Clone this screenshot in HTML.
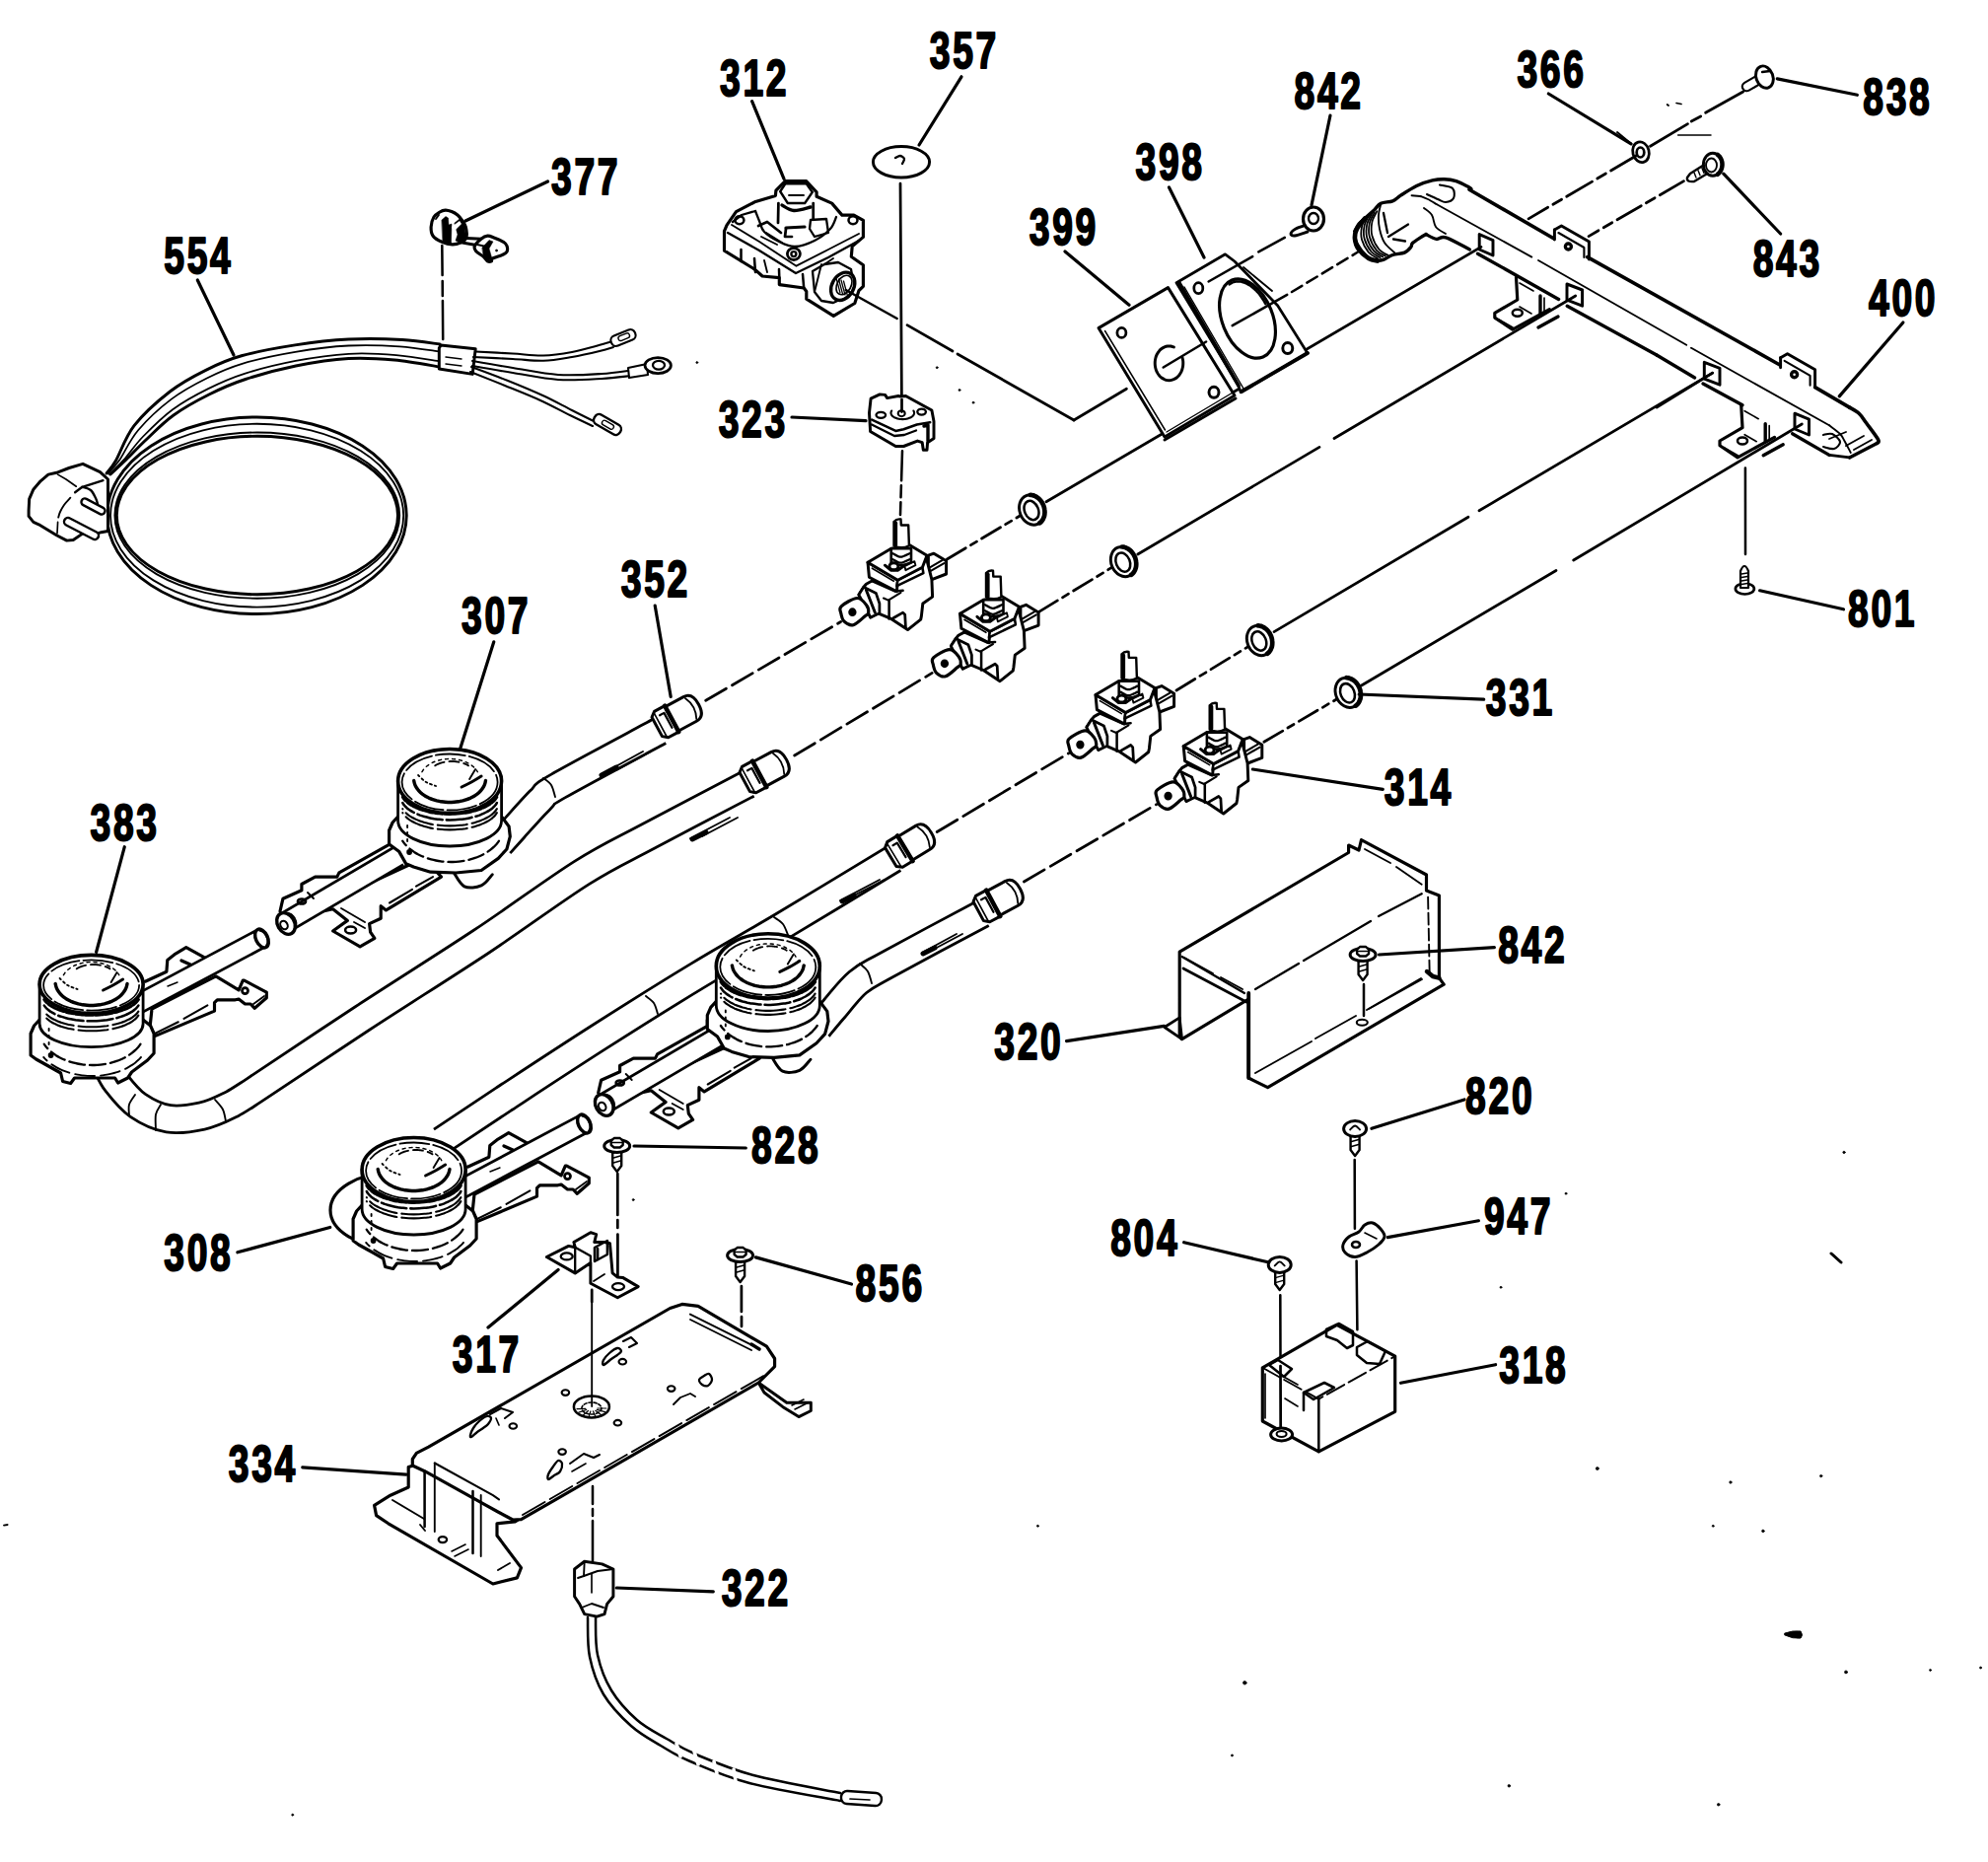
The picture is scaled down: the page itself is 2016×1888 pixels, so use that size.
<!DOCTYPE html><html><head><meta charset="utf-8"><style>html,body{margin:0;padding:0;background:#fff;width:2016px;height:1888px;overflow:hidden}svg{display:block}</style></head><body>
<svg width="2016" height="1888" viewBox="0 0 2016 1888">
<rect width="2016" height="1888" fill="#fff"/>
<g stroke="#000" fill="none" stroke-linecap="round" stroke-linejoin="round">
<ellipse cx="260.4" cy="522.8" rx="151.8" ry="99.8" stroke-width="2.96"/>
<ellipse cx="260.6" cy="522.7" rx="148.6" ry="92.9" stroke-width="1.88"/>
<ellipse cx="260.8" cy="522.6" rx="144.4" ry="84.1" stroke-width="1.88"/>
<ellipse cx="260.9" cy="522.5" rx="142.6" ry="80.2" stroke-width="2.96"/>
<path d="M108,480 C109.5,477.9 112.5,475.7 117.2,467.6 C121.9,459.5 127,443.2 136.2,431.4 C145.4,419.6 160.3,406.4 172.4,397 C184.5,387.6 196.6,381.3 208.7,375.3 C220.8,369.3 229.8,365 244.9,360.8 C260,356.6 281.1,352.7 299.2,349.9 C317.3,347.1 335.4,345 353.5,344.1 C371.6,343.2 392.5,343.7 407.9,344.5 C423.3,345.3 439.6,348.2 446,349" stroke-width="2.96"/>
<path d="M109.3,480.3 C111.2,478.1 115.6,474.4 120.8,467.1 C125.9,459.7 131.3,446.6 140.1,436.2 C148.9,425.9 162,413.7 173.6,404.9 C185.2,396.1 197.7,389.5 209.8,383.5 C221.9,377.4 231.3,373.1 246.3,368.6 C261.2,364.2 281.6,359.9 299.5,356.9 C317.3,353.8 335.9,351.4 353.5,350.5 C371.1,349.6 389.9,350.3 405.3,351.3 C420.7,352.3 439.2,355.7 446,356.6" stroke-width="1.77"/>
<path d="M111,480.8 C113.4,478.4 119.7,472.8 125.4,466.4 C131.1,460 136.9,451 145.2,442.5 C153.5,434 164.1,423.3 175.1,415.2 C186.1,407.2 199.1,400.1 211.2,394.1 C223.4,388 233.2,383.5 248,378.8 C262.8,374.1 282.2,369.3 299.8,365.9 C317.4,362.6 336.5,359.8 353.5,358.8 C370.5,357.9 386.5,358.8 401.9,360.1 C417.3,361.4 438.6,365.4 446,366.5" stroke-width="1.77"/>
<path d="M112,481 C114.7,478.5 122,471.8 128,466 C134,460.2 140,453.5 148,446 C156,438.5 165.3,428.7 176,421 C186.7,413.3 199.8,406.1 212,400 C224.2,393.9 234.3,389.3 249,384.5 C263.7,379.7 282.6,374.5 300,371 C317.4,367.5 336.8,364.5 353.5,363.5 C370.2,362.5 384.6,363.6 400,365 C415.4,366.4 438.3,370.8 446,372" stroke-width="2.96"/>
<path d="M84,470.3 L70,474.5 L57.4,479.3 L49,481.1 L41.1,487.8 L33.9,496.2 L29.7,505.9 L29.1,517.3 L29.1,523.4 L33.9,529.4 L39.3,531.8 L57.4,542.7 L67.7,548.1 L74.3,547.5 L84,540.9 L90,542.7 L95.5,542.1 L102.7,539.7 L109.5,538.5 L109.5,486 L101.5,478.7 Z" stroke-width="2.96" fill="#fff"/>
<path d="M58.6,481.1 L67,486 L77.3,493.2" stroke-width="1.66"/>
<path d="M76.1,499.2 L83.4,493.8 L104.5,487.2" stroke-width="2.31"/>
<path d="M83.4,493.8 C84.8,494.3 89.7,495.1 92,497 C94.3,498.9 95.8,502.7 97,505 C98.2,507.3 98.7,510 99,511" stroke-width="2.31"/>
<path d="M71.3,504.7 C70.2,505.9 66.7,509.6 65,512 C63.3,514.4 62,516.9 61,519 C60,521.1 59.5,523.7 59.2,524.6" stroke-width="1.88"/>
<line x1="58.6" y1="529.4" x2="58" y2="540.9" stroke-width="1.66"/>
<rect x="81.4" y="510" width="26.2" height="7" rx="3.5" transform="rotate(27.9 94.5 513.5)" stroke-width="2.4" fill="#fff"/>
<rect x="63.3" y="532" width="38.4" height="8" rx="4" transform="rotate(27.4 82.5 536)" stroke-width="2.4" fill="#fff"/>
<path d="M447,350 L482.2,353.7 L479.2,379.4 L445.3,374 L445.3,353 Z" stroke-width="2.96" fill="#fff"/>
<line x1="452" y1="362" x2="468" y2="364" stroke-width="1.45"/>
<line x1="452" y1="369" x2="468" y2="371" stroke-width="1.45"/>
<path d="M482,356.5 C488.3,356.8 508.5,357.8 520,358.5 C531.5,359.2 541,360.8 551,360.5 C561,360.2 571,358.6 580,357 C589,355.4 598,352.5 605,350.7 C612,348.9 619.2,346.8 622,346" stroke-width="2.09"/>
<path d="M480,362 C486.7,362.3 508.2,363.4 520,364 C531.8,364.6 541,366.1 551,365.8 C561,365.5 570.5,363.6 580,362 C589.5,360.4 601,357.7 608,356 C615,354.3 619.7,352.7 622,352" stroke-width="2.09"/>
<rect x="619" y="337" width="26" height="11" rx="5" transform="rotate(-22 632 342.5)" stroke-width="2.2" fill="#fff"/>
<rect x="627" y="339.5" width="12" height="5" rx="2.5" transform="rotate(-22 632 342.5)" stroke-width="1.4"/>
<path d="M479,366 C485.8,367.2 505.5,370.7 520,373 C534.5,375.3 551,379 566,380 C581,381 597.7,379.8 610,379 C622.3,378.2 635,376.1 640,375.5" stroke-width="2.09"/>
<path d="M479,371 C485.8,372.2 505.5,375.7 520,378 C534.5,380.3 551,384 566,385 C581,386 597.7,384.7 610,384 C622.3,383.3 635,381.5 640,381" stroke-width="2.09"/>
<path d="M637,373 L656,369 L657,380 L638,383 Z" stroke-width="2.09" fill="#fff"/>
<ellipse cx="667.2" cy="370.6" rx="13.2" ry="8" stroke-width="2.74" fill="#fff"/>
<ellipse cx="668" cy="370.3" rx="6" ry="4.4" stroke-width="2.31"/>
<path d="M478,372 C484.2,374.3 502.8,381.1 515,386 C527.2,390.9 540.2,396.3 551,401.3 C561.8,406.3 571.2,411.6 580,416 C588.8,420.4 600,426 604,428" stroke-width="2.09"/>
<path d="M477,377 C482.8,379.3 500.2,386.2 512,391 C523.8,395.8 537,401 548,406 C559,411 569.2,416.7 578,421 C586.8,425.3 597.2,430.2 601,432" stroke-width="2.09"/>
<rect x="601" y="425" width="30" height="11" rx="5" transform="rotate(30 616 430.5)" stroke-width="2.4" fill="#fff"/>
<rect x="610" y="428" width="13" height="5" rx="2.5" transform="rotate(30 616 430.5)" stroke-width="1.4"/>
<path d="M448.3,249 L448.6,279 M448.7,285 L448.8,300 M448.9,305 L449.2,344" stroke-width="2.53"/>
<path d="M437.1,230.2 C437.2,227 438.5,222.5 440,220 C441.5,217.5 444.1,216.2 446,215 C447.9,213.8 449.7,213.2 451.7,213.1 C453.7,213 455.9,213.7 458,214.5 C460.1,215.3 462.2,216.5 464,218 C465.8,219.5 467.4,221.6 468.8,223.6 C470.2,225.6 471.6,227.3 472.3,230.2 C473,233.1 473.7,238.6 472.8,241.2 C471.9,243.8 469.4,244.9 467,246 C464.6,247.1 461.8,247.9 458.7,247.8 C455.6,247.7 451.4,246.7 448.1,245.3 C444.8,243.9 440.9,241.7 439.1,239.2 C437.3,236.7 437,233.4 437.1,230.2 Z" stroke-width="3.17" fill="#fff"/>
<path d="M448,223 L452,219.5 L454.5,221 L455,228 L458,227 L457.5,246 L453,247 L449,244 Z" fill="#000" stroke-width="0.5"/>
<path d="M461,226 L466,222 L471,228 L472.5,241 L467,246 L462,244 L464,238 Z" fill="#000" stroke-width="0.5"/>
<path d="M458,230 L466,224 L468,227 L460,235 Z" fill="#fff" stroke-width="0"/>
<line x1="442" y1="222" x2="445" y2="218" stroke-width="1.88"/>
<line x1="472.8" y1="241.5" x2="487.9" y2="242.3" stroke-width="2.96"/>
<line x1="467.3" y1="245.8" x2="481.3" y2="248.3" stroke-width="2.96"/>
<path d="M487.9,242.3 C490.1,240.5 492.1,239.4 494.4,239.2 C496.7,239 498.8,240.2 501.5,241.2 C504.2,242.2 508.4,244 510.5,245.3 C512.6,246.7 513.4,247.6 514,249.3 C514.6,251 514.8,253.8 514,255.3 C513.2,256.8 512,257.2 509.5,258.4 C507,259.6 500.8,261.3 498.9,262.4 C497,263.5 499.1,264.5 498.4,264.9 C497.6,265.3 495.7,265.6 494.4,264.9 C493.1,264.1 492.3,262.1 490.4,260.4 C488.5,258.7 484.3,256.6 482.8,254.8 C481.3,253 480.5,251.9 481.3,249.8 C482.1,247.7 485.7,244.1 487.9,242.3 Z" stroke-width="3.17" fill="#fff"/>
<path d="M489,251 L496,243.5 L500,245 L496,252 L499,262.5 L494.4,264.9 L490.4,260.4 Z" fill="#000" stroke-width="0.5"/>
<line x1="484" y1="248" x2="493" y2="250" stroke-width="1.88"/>
<ellipse cx="503.5" cy="254" rx="1" ry="1" stroke-width="0.69" fill="#000"/>
<path d="M796.3,183.7 L817.8,183.7 L828.1,194.9 L828.1,199.2 L843.6,206.1 L853.9,218.1 L865.9,218.1 L875.4,223.3 L875.4,240.4 L864.2,249.9 L863.3,260.2 L875.4,268.8 L875.4,290.3 L871,294.6 L866.8,307.5 L845.3,320.4 L817.8,303.2 L817.8,295.5 L815.2,292 L790.3,288.6 L790.3,281.7 L773.1,280 L765.4,273.1 L734.5,254.2 L734.5,234.4 L737,228.4 L746.5,214.7 L766.2,204.4 L786.4,198.4 L786.9,193.2 Z" stroke-width="3.17" fill="#fff"/>
<path d="M796.3,186.3 L817.8,186.3 L823.8,194.9 L816.1,206.1 L798.9,206.1 L791.2,194.1 Z" stroke-width="2.53"/>
<path d="M793,208 C795,208.9 800.2,213.2 805,213.5 C809.8,213.8 819.2,210.6 822,210" stroke-width="3.39"/>
<line x1="789.4" y1="206" x2="789" y2="226" stroke-width="2.74"/>
<line x1="824.7" y1="206" x2="824.7" y2="222" stroke-width="2.74"/>
<line x1="800" y1="198" x2="815" y2="198" stroke-width="1.88"/>
<path d="M742,228 L770,245 L807.5,269.7 L840,253 L871,237" stroke-width="1.88"/>
<path d="M738,236 L770,254 L807,277 L840,261 L871,244" stroke-width="2.31"/>
<path d="M743,225 L752,218 L766,214" stroke-width="2.31"/>
<path d="M766,214 C766.7,215.7 768.5,220.5 770,224 C771.5,227.5 771.7,231.5 775,235 C778.3,238.5 784.8,242.5 790,245 C795.2,247.5 800,250.2 806,250 C812,249.8 820,247 826,244 C832,241 838.3,236 842,232 C845.7,228 847,222 848,220" stroke-width="2.31"/>
<ellipse cx="749.9" cy="223.3" rx="4.5" ry="4" stroke-width="2.53"/>
<ellipse cx="865" cy="223.3" rx="4.5" ry="4" stroke-width="2.53"/>
<ellipse cx="804.9" cy="257.6" rx="6.5" ry="6" stroke-width="2.74"/>
<ellipse cx="804.9" cy="257.6" rx="2.5" ry="2.5" stroke-width="2.31"/>
<path d="M822,223 L838,222 L840,236 L826,240 L821,232 Z" stroke-width="2.31"/>
<path d="M769,229 L778,225 L792,236" stroke-width="2.74"/>
<path d="M797,231 L816,230" stroke-width="3.17"/>
<path d="M797,232 L796,240 L803,240" stroke-width="2.74"/>
<path d="M772,240 L788,248" stroke-width="1.88"/>
<path d="M777,236 L793,246" stroke-width="1.88"/>
<line x1="751.5" y1="253" x2="751.5" y2="265" stroke-width="2.53"/>
<line x1="765" y1="262" x2="766" y2="276" stroke-width="2.53"/>
<line x1="790" y1="273" x2="790.3" y2="281.7" stroke-width="2.53"/>
<line x1="814" y1="278" x2="815.2" y2="292" stroke-width="2.53"/>
<line x1="775" y1="264" x2="778" y2="276" stroke-width="1.88"/>
<path d="M824,275 L836,268 L850,266 L863,273 L866,290 L860,300 L845,307 L833,305 L826,296 Z" stroke-width="2.31"/>
<line x1="833" y1="268" x2="826" y2="296" stroke-width="1.88"/>
<line x1="845" y1="262" x2="836" y2="268" stroke-width="1.88"/>
<ellipse cx="854.7" cy="290.3" rx="11" ry="15" transform="rotate(30 854.7 290.3)" stroke-width="3.39" fill="#fff"/>
<ellipse cx="856" cy="289" rx="7" ry="10.5" transform="rotate(30 856 289)" stroke-width="1.66"/>
<line x1="848" y1="282" x2="852" y2="297" stroke-width="1.23"/>
<line x1="850.5" y1="283" x2="854.5" y2="298" stroke-width="1.23"/>
<line x1="853" y1="284" x2="857" y2="299" stroke-width="1.23"/>
<line x1="855.5" y1="285" x2="859.5" y2="300" stroke-width="1.23"/>
<line x1="857.7" y1="294" x2="909.7" y2="323" stroke-width="2.53"/>
<line x1="920" y1="329.6" x2="966" y2="356" stroke-width="2.74"/>
<line x1="971" y1="359" x2="1089" y2="426" stroke-width="2.74"/>
<line x1="1089" y1="426" x2="1142.4" y2="394.3" stroke-width="2.74"/>
<ellipse cx="914" cy="164.3" rx="28.6" ry="15.7" stroke-width="2.96" fill="#fff"/>
<path d="M908,160 C908.8,159.7 911.5,157.8 913,158 C914.5,158.2 916.7,159.7 917,161 C917.3,162.3 915.3,165.2 915,166" stroke-width="2.31"/>
<line x1="913" y1="186" x2="914.5" y2="417.6" stroke-width="2.74"/>
<path d="M883.1,404.2 L892.2,399.9 L897.6,400.4 L899.7,403.6 L911,401.5 L913.2,402 L918.5,401.5 L944.9,416 L947,427.3 L947,444.4 L940.6,448.7 L940,456.3 L936.3,456.3 L935.2,448.7 L930.4,447.1 L916.4,452.5 L908.3,452.5 L882.6,437.5 L881.5,418.7 Z" stroke-width="2.96" fill="#fff"/>
<path d="M884.2,425.6 L908.3,436.9 L916.4,435.3 L929.8,430.5 L943.2,428.3" stroke-width="2.53"/>
<path d="M884,430.5 L907,442 L917,441 L929,436.5" stroke-width="2.31"/>
<ellipse cx="893.3" cy="420.8" rx="4.8" ry="3" stroke-width="2.31"/>
<ellipse cx="934.6" cy="417.6" rx="4.3" ry="3" stroke-width="2.31"/>
<path d="M926.4,416.5 C926.5,416.7 926.8,417.2 926.9,417.5 C927,417.8 927.1,418.2 927.1,418.5 C927.1,418.9 927.1,419.2 927,419.5 C926.9,419.9 926.8,420.2 926.6,420.5 C926.4,420.9 926.2,421.2 925.9,421.5 C925.6,421.8 925.3,422.1 925,422.4 C924.6,422.6 924.2,422.9 923.8,423.2 C923.3,423.4 922.8,423.6 922.3,423.8 C921.8,424 921.3,424.2 920.7,424.4 C920.2,424.5 919.6,424.7 919,424.8 C918.4,424.9 917.8,425 917.2,425 C916.6,425.1 915.9,425.1 915.3,425.1 C914.7,425.1 914,425.1 913.4,425 C912.8,425 912.2,424.9 911.6,424.8 C911,424.7 910.4,424.5 909.9,424.4 C909.3,424.2 908.8,424 908.3,423.8 C907.8,423.6 907.3,423.4 906.8,423.2 C906.4,422.9 906,422.6 905.6,422.4 C905.3,422.1 905,421.8 904.7,421.5 C904.4,421.2 904.2,420.9 904,420.5 C903.8,420.2 903.7,419.9 903.6,419.5 C903.5,419.2 903.5,418.9 903.5,418.5 C903.5,418.2 903.6,417.8 903.7,417.5 C903.8,417.2 904.1,416.7 904.2,416.5" stroke-width="2.09"/>
<ellipse cx="914.2" cy="419.2" rx="3.5" ry="3" stroke-width="2.09"/>
<line x1="914.5" y1="405" x2="914.5" y2="417.6" stroke-width="2.74"/>
<path d="M937,432 L941,431 L941,447" stroke-width="3.39"/>
<path d="M915,457.3 L914.1,487.3 M913.9,492.3 L913.5,504.3 M913.4,509.3 L913,522" stroke-width="2.53"/>
<line x1="1061" y1="508.8" x2="1502" y2="250.4" stroke-width="2.74"/>
<line x1="1153.8" y1="562" x2="1338" y2="453.4" stroke-width="2.74"/>
<line x1="1353" y1="444.5" x2="1597.7" y2="300" stroke-width="2.74"/>
<line x1="1292" y1="640.6" x2="1489" y2="524.3" stroke-width="2.74"/>
<line x1="1500" y1="517.8" x2="1736.7" y2="378.1" stroke-width="2.74"/>
<line x1="1380.7" y1="695" x2="1578" y2="578.5" stroke-width="2.74"/>
<line x1="1595.7" y1="568" x2="1827.3" y2="430" stroke-width="2.74"/>
<path d="M1114,332.6 L1184.5,291.6 L1252,401 L1181,443 Z" stroke-width="2.96" fill="#fff"/>
<line x1="1120.5" y1="335.5" x2="1181.5" y2="436" stroke-width="1.45"/>
<line x1="1183" y1="438" x2="1251" y2="397.5" stroke-width="1.45"/>
<line x1="1181" y1="446" x2="1253" y2="404" stroke-width="2.96"/>
<ellipse cx="1137.4" cy="337.4" rx="4.5" ry="5" stroke-width="2.74"/>
<ellipse cx="1231" cy="397.8" rx="5" ry="5.5" stroke-width="2.96"/>
<path d="M1198.9,362.3 C1199.1,363 1199.6,364.9 1199.7,366.2 C1199.8,367.4 1199.8,368.8 1199.7,370.1 C1199.6,371.4 1199.4,372.7 1199,373.9 C1198.7,375.1 1198.2,376.3 1197.7,377.4 C1197.1,378.5 1196.4,379.6 1195.7,380.5 C1194.9,381.4 1194.1,382.3 1193.2,383 C1192.3,383.7 1191.3,384.3 1190.3,384.7 C1189.3,385.1 1188.2,385.4 1187.2,385.6 C1186.1,385.7 1185,385.7 1183.9,385.6 C1182.9,385.5 1181.8,385.2 1180.8,384.7 C1179.8,384.3 1178.8,383.7 1177.9,383 C1177,382.4 1176.1,381.5 1175.4,380.6 C1174.6,379.7 1173.9,378.6 1173.4,377.5 C1172.8,376.4 1172.3,375.2 1172,374 C1171.6,372.8 1171.4,371.5 1171.3,370.2 C1171.2,368.9 1171.2,367.6 1171.3,366.3 C1171.4,365 1171.7,363.7 1172,362.5 C1172.4,361.2 1172.9,360 1173.4,359 C1174,357.9 1174.7,356.8 1175.5,355.9 C1176.2,355 1177.1,354.2 1178,353.5 C1178.9,352.8 1179.9,352.2 1180.9,351.8 C1181.9,351.4 1183,351.1 1184,351 C1185.1,350.9 1186.2,350.9 1187.3,351 C1188.3,351.2 1189.9,351.8 1190.4,351.9" stroke-width="2.96"/>
<line x1="1179.7" y1="372.5" x2="1223.1" y2="346.5" stroke-width="2.53"/>
<path d="M1193,286.7 L1242.5,257.8 L1252,265 L1295.6,309.7 L1322.1,351.9 L1325.8,358 L1258.2,397.8 L1255.7,390.6 Z" stroke-width="2.74" fill="#fff"/>
<line x1="1196" y1="287" x2="1256" y2="391" stroke-width="3.61"/>
<line x1="1201" y1="291" x2="1261" y2="394" stroke-width="1.45"/>
<line x1="1259" y1="397" x2="1326" y2="358" stroke-width="3.82"/>
<ellipse cx="1265" cy="323" rx="25.5" ry="42" transform="rotate(-22 1265 323)" stroke-width="3.17"/>
<path d="M1246.7,288.4 C1246.9,288.3 1247.5,287.8 1248,287.5 C1248.4,287.3 1248.8,287 1249.3,286.8 C1249.7,286.6 1250.2,286.4 1250.7,286.2 C1251.1,286 1251.6,285.9 1252.1,285.8 C1252.6,285.6 1253.1,285.6 1253.6,285.5 C1254.1,285.4 1254.6,285.4 1255.2,285.4 C1255.7,285.4 1256.2,285.4 1256.8,285.4 C1257.3,285.5 1257.8,285.5 1258.4,285.6 C1258.9,285.7 1259.5,285.9 1260,286 C1260.6,286.2 1261.2,286.3 1261.7,286.5 C1262.3,286.7 1262.8,287 1263.4,287.2 C1264,287.5 1264.5,287.8 1265.1,288.1 C1265.7,288.4 1266.2,288.7 1266.8,289 C1267.4,289.4 1267.9,289.8 1268.5,290.2 C1269.1,290.6 1269.6,291 1270.2,291.5 C1270.7,291.9 1271.3,292.4 1271.8,292.9 C1272.4,293.3 1272.9,293.9 1273.4,294.4 C1274,294.9 1274.5,295.5 1275,296.1 C1275.6,296.6 1276.1,297.2 1276.6,297.8 C1277.1,298.4 1277.6,299.1 1278.1,299.7 C1278.6,300.4 1279,301 1279.5,301.7 C1280,302.4 1280.4,303.1 1280.9,303.8 C1281.3,304.5 1281.8,305.2 1282.2,305.9 C1282.6,306.7 1283.2,307.8 1283.4,308.2" stroke-width="2.53"/>
<ellipse cx="1215.3" cy="292.2" rx="4.5" ry="5.5" stroke-width="2.74"/>
<ellipse cx="1305.8" cy="353.1" rx="5" ry="5.5" stroke-width="2.96"/>
<line x1="1261" y1="271" x2="1290" y2="295" stroke-width="1.88"/>
<line x1="1249.7" y1="330.2" x2="1305.2" y2="298.8" stroke-width="2.53"/>
<path d="M1310,296 L1320.3,289.8 M1325.4,286.7 L1335.7,280.5 M1340.8,277.4 L1351.1,271.2 M1356.2,268.1 L1366.5,261.9 M1371.6,258.8 L1377,255.5" stroke-width="2.53"/>
<line x1="1225.6" y1="285.5" x2="1270.2" y2="260.2" stroke-width="2.53"/>
<line x1="1276.3" y1="255.4" x2="1302.8" y2="240.9" stroke-width="2.53"/>
<path d="M1325,228 C1323.2,228.7 1316.7,230.5 1314,232 C1311.3,233.5 1309.2,235.8 1309,237 C1308.8,238.2 1310.2,239.3 1313,239 C1315.8,238.7 1323.8,235.7 1326,235" stroke-width="2.96" fill="#fff"/>
<ellipse cx="1332" cy="222" rx="10.5" ry="12" stroke-width="3.17" fill="#fff"/>
<ellipse cx="1332" cy="221.5" rx="5" ry="5.5" stroke-width="2.31"/>
<path d="M1373.7,234.4 C1374.4,233.2 1376.3,229.2 1378,227 C1379.7,224.8 1381.5,223.9 1384.1,221.5 C1386.7,219.1 1391.1,215.2 1393.8,212.7 C1396.5,210.1 1397.1,207.7 1400.2,206.2 C1403.3,204.7 1408.9,205.1 1412.3,203.8 C1415.7,202.5 1416.4,200.8 1420.4,198.2 C1424.4,195.6 1431.1,191.1 1436.5,188.5 C1441.9,185.9 1447.9,184 1452.6,182.9 C1457.3,181.8 1460.6,181.6 1464.6,181.7 C1468.6,181.8 1472.7,182.4 1476.7,183.7 C1480.7,185 1486.2,188 1488.8,189.3 C1491.3,190.6 1491.5,191.1 1492,191.5 L1490.4,252.9 1490.4,252.9 C1486.4,250.9 1471.8,242.6 1466.2,240.8 C1460.6,239.1 1459.9,242.9 1456.6,242.4 C1453.2,241.9 1448.8,237.9 1446.1,237.6 C1443.4,237.3 1442.8,239.3 1440.5,240.8 C1438.2,242.3 1434,244.9 1432.4,246.5 C1430.8,248.1 1432.1,248.9 1430.8,250.5 C1429.5,252.1 1427.5,254.8 1424.4,256.1 C1421.3,257.4 1415.9,257.3 1412.3,258.5 C1408.7,259.7 1405.4,262.4 1402.7,263.4 C1400,264.3 1398.6,264.5 1396.2,264.2 C1393.8,263.9 1390.8,263.3 1388.2,261.7 C1385.7,260.1 1383.2,257.3 1380.9,254.5 C1378.6,251.7 1375.6,246.4 1374.5,244.8 Z" stroke-width="0" fill="#fff"/>
<path d="M1373.7,234.4 C1374.4,233.2 1376.3,229.2 1378,227 C1379.7,224.8 1381.5,223.9 1384.1,221.5 C1386.7,219.1 1391.1,215.2 1393.8,212.7 C1396.5,210.1 1397.1,207.7 1400.2,206.2 C1403.3,204.7 1408.9,205.1 1412.3,203.8 C1415.7,202.5 1416.4,200.8 1420.4,198.2 C1424.4,195.6 1431.1,191.1 1436.5,188.5 C1441.9,185.9 1447.9,184 1452.6,182.9 C1457.3,181.8 1460.6,181.6 1464.6,181.7 C1468.6,181.8 1472.7,182.4 1476.7,183.7 C1480.7,185 1486.2,188 1488.8,189.3 C1491.3,190.6 1491.5,191.1 1492,191.5" stroke-width="3.39"/>
<path d="M1490.4,252.9 C1486.4,250.9 1471.8,242.6 1466.2,240.8 C1460.6,239.1 1459.9,242.9 1456.6,242.4 C1453.2,241.9 1447.8,238.4 1446.1,237.6" stroke-width="3.39"/>
<path d="M1446.1,237.6 C1445.2,238.1 1442.8,239.3 1440.5,240.8 C1438.2,242.3 1434,244.9 1432.4,246.5 C1430.8,248.1 1432.1,248.9 1430.8,250.5 C1429.5,252.1 1427.5,254.8 1424.4,256.1 C1421.3,257.4 1415.9,257.3 1412.3,258.5 C1408.7,259.7 1405.4,262.4 1402.7,263.4 C1400,264.3 1398.6,264.5 1396.2,264.2 C1393.8,263.9 1390.8,263.3 1388.2,261.7 C1385.7,260.1 1383.2,257.3 1380.9,254.5 C1378.6,251.7 1375.6,246.4 1374.5,244.8" stroke-width="3.39"/>
<path d="M1384.1,221.5 C1382.8,223.2 1377.7,228.6 1376,232 C1374.3,235.4 1373.7,238.5 1374,242 C1374.3,245.5 1375.7,249.7 1378,253 C1380.3,256.3 1384.8,260.1 1388,262 C1391.2,263.9 1395.5,264.1 1397,264.5" stroke-width="4.69"/>
<path d="M1386,219 C1385.2,220.8 1381.8,226 1381,230 C1380.2,234 1379.8,238.7 1381,243 C1382.2,247.3 1385.3,252.8 1388,256 C1390.7,259.2 1395.5,261 1397,262" stroke-width="1.77"/>
<path d="M1388.6,217.8 C1387.8,219.6 1384.4,224.8 1383.6,228.8 C1382.8,232.8 1382.4,237.6 1383.6,242 C1384.8,246.4 1387.9,252 1390.6,255.2 C1393.3,258.4 1398.1,260.2 1399.6,261.2" stroke-width="1.77"/>
<path d="M1391.2,216.6 C1390.4,218.4 1387,223.5 1386.2,227.6 C1385.4,231.7 1385,236.5 1386.2,241 C1387.4,245.5 1390.5,251.2 1393.2,254.4 C1395.9,257.6 1400.7,259.4 1402.2,260.4" stroke-width="1.77"/>
<path d="M1393.8,215.4 C1393,217.2 1389.6,222.3 1388.8,226.4 C1388,230.5 1387.6,235.5 1388.8,240 C1390,244.5 1393.1,250.3 1395.8,253.6 C1398.5,256.9 1403.3,258.6 1404.8,259.6" stroke-width="1.77"/>
<path d="M1396.4,214.2 C1395.6,216 1392.2,221.1 1391.4,225.2 C1390.6,229.3 1390.2,234.4 1391.4,239 C1392.6,243.6 1395.7,249.5 1398.4,252.8 C1401.1,256.1 1405.9,257.8 1407.4,258.8" stroke-width="1.77"/>
<path d="M1400,208 C1399.7,209.7 1398.2,214 1398,218 C1397.8,222 1398,227.3 1399,232 C1400,236.7 1401.5,242 1404,246 C1406.5,250 1412.3,254.3 1414,256" stroke-width="1.88"/>
<line x1="1403" y1="216" x2="1407" y2="236" stroke-width="2.31"/>
<line x1="1408" y1="240" x2="1428" y2="227.5" stroke-width="2.31"/>
<line x1="1413" y1="242.5" x2="1425" y2="244.5" stroke-width="2.31"/>
<path d="M1444,211 C1445.3,212.2 1450,214.8 1452,218 C1454,221.2 1453.7,226.8 1456,230 C1458.3,233.2 1464.3,235.8 1466,237" stroke-width="1.88"/>
<path d="M1447,197 C1448.8,197.8 1454.8,200.7 1458,202 C1461.2,203.3 1463.3,205.2 1466,205 C1468.7,204.8 1472.8,203.3 1474,201 C1475.2,198.7 1475.3,193.2 1473,191 C1470.7,188.8 1462.2,188.1 1460,187.5" stroke-width="2.09"/>
<line x1="1431.6" y1="198.2" x2="1440.5" y2="199" stroke-width="2.09"/>
<path d="M1440.5,199 C1441.8,199.5 1445.3,200.7 1448,202 C1450.7,203.3 1455.2,206.2 1456.6,207" stroke-width="1.88"/>
<line x1="1490" y1="192.2" x2="1575.5" y2="241.8" stroke-width="3.61"/>
<line x1="1609.7" y1="260.6" x2="1804.4" y2="369.7" stroke-width="3.61"/>
<line x1="1840.6" y1="392.6" x2="1875.6" y2="413.1" stroke-width="3.61"/>
<path d="M1875.6,413.1 C1877.2,414.1 1882.4,416.6 1885.2,419.2 C1888,421.8 1889.3,424.4 1892.5,428.8 C1895.7,433.2 1902.8,442.3 1904.6,445.7 C1906.4,449.1 1903.6,448.8 1903.4,449.4" stroke-width="3.61"/>
<line x1="1903.4" y1="449.4" x2="1875.6" y2="463.9" stroke-width="3.39"/>
<line x1="1875.6" y1="463.9" x2="1855" y2="461.4" stroke-width="2.96"/>
<line x1="1456.6" y1="207" x2="1553.3" y2="260.6" stroke-width="1.88"/>
<line x1="1560" y1="264" x2="1710.2" y2="349.8" stroke-width="1.88"/>
<line x1="1715" y1="352.8" x2="1855" y2="431.3" stroke-width="1.88"/>
<path d="M1855,431.3 C1856.8,432.8 1863.3,437.2 1866,440 C1868.7,442.8 1869.2,444.8 1871,448 C1872.8,451.2 1875.8,457.2 1876.8,459" stroke-width="1.88"/>
<line x1="1498.5" y1="257.2" x2="1580.6" y2="303.4" stroke-width="3.39"/>
<line x1="1589.2" y1="310.2" x2="1680" y2="360" stroke-width="3.39"/>
<line x1="1680" y1="360" x2="1718.6" y2="383" stroke-width="3.39"/>
<line x1="1727" y1="389" x2="1767" y2="410.7" stroke-width="3.39"/>
<line x1="1817.6" y1="439.7" x2="1855" y2="461.4" stroke-width="3.39"/>
<line x1="1855" y1="445" x2="1872" y2="438" stroke-width="1.88"/>
<line x1="1872" y1="452" x2="1890" y2="442" stroke-width="1.88"/>
<line x1="1880" y1="456" x2="1898" y2="446" stroke-width="1.88"/>
<path d="M1849,441 C1850.5,440.8 1855.2,438.8 1858,440 C1860.8,441.2 1865.7,445.5 1866,448 C1866.3,450.5 1862.8,454.2 1860,455 C1857.2,455.8 1850.8,453.3 1849,453" stroke-width="2.09"/>
<path d="M1500.2,237.6 L1500.2,253 L1514,259 L1514,243.6 Z" stroke-width="2.96"/>
<path d="M1589,288 L1589,304.2 L1604.6,310.2 L1604.6,294 Z" stroke-width="2.96"/>
<path d="M1728.3,367.3 L1728.3,384.2 L1744,390.2 L1744,373.3 Z" stroke-width="2.96"/>
<path d="M1820,419.2 L1820,435 L1834.5,441 L1834.5,425.2 Z" stroke-width="2.96"/>
<path d="M1576.4,233 L1583.4,229 L1611.4,245 L1611.4,263" stroke-width="2.96"/>
<line x1="1576.4" y1="233" x2="1576.4" y2="243" stroke-width="2.96"/>
<path d="M1580.4,236 L1606.4,251 L1606.4,261" stroke-width="2.09"/>
<ellipse cx="1590.4" cy="250" rx="3" ry="3" stroke-width="3.39"/>
<path d="M1805.6,362.8 L1812.6,358.8 L1840.6,374.8 L1840.6,392.8" stroke-width="2.96"/>
<line x1="1805.6" y1="362.8" x2="1805.6" y2="372.8" stroke-width="2.96"/>
<path d="M1809.6,365.8 L1835.6,380.8 L1835.6,390.8" stroke-width="2.09"/>
<ellipse cx="1819.6" cy="379.8" rx="3" ry="3" stroke-width="3.39"/>
<path d="M1537.5,281 L1538.8,304 L1515.8,317.3 L1515.8,322.1 L1533.9,334.2 L1571.3,313.6" stroke-width="3.17"/>
<ellipse cx="1538.8" cy="317.3" rx="5" ry="3.5" stroke-width="2.53"/>
<line x1="1520" y1="324" x2="1534" y2="332" stroke-width="1.66"/>
<line x1="1541" y1="287" x2="1555" y2="295" stroke-width="1.66"/>
<line x1="1541" y1="311" x2="1553" y2="318" stroke-width="1.66"/>
<line x1="1562" y1="300" x2="1562" y2="318" stroke-width="3.39"/>
<line x1="1566" y1="302" x2="1566" y2="316" stroke-width="1.66"/>
<line x1="1560" y1="332" x2="1580" y2="321" stroke-width="3.39"/>
<path d="M1765.7,410.7 L1767,433.7 L1744,447 L1744,451.8 L1762.1,463.9 L1799.5,443.3" stroke-width="3.17"/>
<ellipse cx="1767" cy="447" rx="5" ry="3.5" stroke-width="2.53"/>
<line x1="1748.2" y1="453.7" x2="1762.2" y2="461.7" stroke-width="1.66"/>
<line x1="1769.2" y1="416.7" x2="1783.2" y2="424.7" stroke-width="1.66"/>
<line x1="1769.2" y1="440.7" x2="1781.2" y2="447.7" stroke-width="1.66"/>
<line x1="1790.2" y1="429.7" x2="1790.2" y2="447.7" stroke-width="3.39"/>
<line x1="1794.2" y1="431.7" x2="1794.2" y2="445.7" stroke-width="1.66"/>
<line x1="1788.2" y1="461.7" x2="1808.2" y2="450.7" stroke-width="3.39"/>
<line x1="1680" y1="413.1" x2="1736.7" y2="378.1" stroke-width="2.74"/>
<rect x="1766" y="80" width="22" height="9" rx="4.5" transform="rotate(-30 1777 84.5)" stroke-width="2.2" fill="#fff"/>
<ellipse cx="1789.4" cy="78.1" rx="8.5" ry="11.5" transform="rotate(-20 1789.4 78.1)" stroke-width="2.96" fill="#fff"/>
<path d="M1787,73 L1795,72" stroke-width="2.31"/>
<path d="M1767.7,93 L1729.6,114.3 M1724.7,118 L1715.2,123 M1711.5,125.6 L1673.5,148.3" stroke-width="2.74"/>
<ellipse cx="1664" cy="154.2" rx="8.2" ry="10.5" transform="rotate(-15 1664 154.2)" stroke-width="2.74" fill="#fff"/>
<ellipse cx="1663.5" cy="154.5" rx="3.8" ry="5" stroke-width="2.74"/>
<path d="M1659.5,157.8 L1633.6,173 M1628.4,176 L1619.8,181 M1614.6,184.1 L1588.7,199.2 M1583.6,202.3 L1574.9,207.3 M1569.7,210.3 L1550,221.9" stroke-width="2.74"/>
<line x1="1690.7" y1="106" x2="1692" y2="107" stroke-width="1.88"/>
<line x1="1700" y1="104.5" x2="1705" y2="105.5" stroke-width="1.66"/>
<line x1="1701.6" y1="137" x2="1735" y2="137" stroke-width="1.45"/>
<line x1="1640" y1="134" x2="1654.5" y2="146" stroke-width="1.88"/>
<path d="M1714,176 L1733,164 L1738,172 L1718,184 Q1710,185 1711,180 Z" stroke-width="2.4" fill="#fff"/>
<line x1="1718" y1="175" x2="1720" y2="180" stroke-width="1.45"/>
<line x1="1722" y1="172.7" x2="1724" y2="177.7" stroke-width="1.45"/>
<line x1="1726" y1="170.4" x2="1728" y2="175.4" stroke-width="1.45"/>
<line x1="1730" y1="168.1" x2="1732" y2="173.1" stroke-width="1.45"/>
<ellipse cx="1736.9" cy="166.8" rx="9.5" ry="11.5" stroke-width="2.96" fill="#fff"/>
<ellipse cx="1735.5" cy="167.5" rx="5.5" ry="7" stroke-width="1.88"/>
<path d="M1741.8,156.8 C1741.9,156.9 1742.2,157.2 1742.4,157.4 C1742.7,157.6 1742.9,157.8 1743.1,158 C1743.3,158.2 1743.5,158.4 1743.7,158.7 C1743.9,158.9 1744.1,159.2 1744.3,159.4 C1744.5,159.7 1744.6,159.9 1744.8,160.2 C1744.9,160.5 1745.1,160.8 1745.2,161.1 C1745.4,161.3 1745.5,161.6 1745.6,161.9 C1745.7,162.2 1745.8,162.6 1745.9,162.9 C1746,163.2 1746.1,163.5 1746.2,163.8 C1746.2,164.1 1746.3,164.5 1746.4,164.8 C1746.4,165.1 1746.4,165.5 1746.5,165.8 C1746.5,166.1 1746.5,166.5 1746.5,166.8 C1746.5,167.1 1746.5,167.5 1746.5,167.8 C1746.4,168.1 1746.4,168.5 1746.4,168.8 C1746.3,169.1 1746.2,169.5 1746.2,169.8 C1746.1,170.1 1746,170.4 1745.9,170.7 C1745.8,171 1745.7,171.4 1745.6,171.7 C1745.5,172 1745.4,172.3 1745.2,172.6 C1745.1,172.8 1744.9,173.1 1744.8,173.4 C1744.6,173.7 1744.5,173.9 1744.3,174.2 C1744.1,174.4 1743.9,174.7 1743.7,174.9 C1743.5,175.2 1743.3,175.4 1743.1,175.6 C1742.9,175.8 1742.7,176 1742.4,176.2 C1742.2,176.4 1741.9,176.7 1741.8,176.8" stroke-width="4.47"/>
<path d="M1707.5,183.6 L1683.3,197.7 M1678.1,200.7 L1669.4,205.7 M1664.3,208.7 L1640,222.7 M1634.8,225.8 L1626.2,230.8 M1621,233.8 L1611,239.6" stroke-width="2.74"/>
<line x1="1769.9" y1="474.5" x2="1770" y2="562" stroke-width="2.53"/>
<ellipse cx="1769.4" cy="597" rx="9.5" ry="5.5" stroke-width="2.74" fill="#fff"/>
<path d="M1765,596 L1765,579 Q1769,569 1773,579 L1773,596 Z" stroke-width="2.2" fill="#fff"/>
<line x1="1766" y1="582" x2="1772" y2="581" stroke-width="1.45"/>
<line x1="1766" y1="585.5" x2="1772" y2="584.5" stroke-width="1.45"/>
<line x1="1766" y1="589" x2="1772" y2="588" stroke-width="1.45"/>
<line x1="1766" y1="592.5" x2="1772" y2="591.5" stroke-width="1.45"/>
<path d="M758.3,795 C741.5,803.8 685.5,832.9 657.5,847.9 C629.4,862.9 618.2,867.2 589.9,885 C561.6,902.9 524.7,930.4 487.6,955 C450.5,979.5 405.9,1007.4 367.5,1032.5 C329.2,1057.6 280.2,1090.7 257.6,1105.5 C235,1120.2 240.8,1116.6 232,1121 C223.2,1125.4 214.9,1129.4 204.7,1131.6 C194.5,1133.8 181.6,1136.1 170.8,1134.3 C160,1132.5 148.8,1127 140,1121 C131.2,1115 123.3,1104.8 118,1098 C112.7,1091.2 109.7,1083 108,1080" stroke-width="30.3" stroke-linecap="butt"/>
<path d="M758.3,795 C741.5,803.8 685.5,832.9 657.5,847.9 C629.4,862.9 618.2,867.2 589.9,885 C561.6,902.9 524.7,930.4 487.6,955 C450.5,979.5 405.9,1007.4 367.5,1032.5 C329.2,1057.6 280.2,1090.7 257.6,1105.5 C235,1120.2 240.8,1116.6 232,1121 C223.2,1125.4 214.9,1129.4 204.7,1131.6 C194.5,1133.8 181.6,1136.1 170.8,1134.3 C160,1132.5 148.8,1127 140,1121 C131.2,1115 123.3,1104.8 118,1098 C112.7,1091.2 109.7,1083 108,1080" stroke="#fff" stroke-width="24.7" stroke-linecap="square"/>
<path d="M137,1110 C136,1111.7 132,1116.5 131,1120 C130,1123.5 131,1129.2 131,1131" stroke-width="1.88"/>
<path d="M163,1120 C162.2,1121.7 158.8,1125.7 158,1130 C157.2,1134.3 158,1143.3 158,1146" stroke-width="1.88"/>
<path d="M218,1115 C219.3,1116.7 224.2,1121.3 226,1125 C227.8,1128.7 228.5,1135 229,1137" stroke-width="1.88"/>
<path d="M906.3,870.7 C887.6,882 827.1,918.8 793.9,938.6 C760.7,958.4 738.2,970.5 707.1,989.4 C676,1008.2 640,1030.8 607.4,1051.6 C574.8,1072.4 538.2,1096.5 511.5,1114 C484.9,1131.5 458.3,1149.4 447.6,1156.5" stroke-width="30.3" stroke-linecap="butt"/>
<path d="M906.3,870.7 C887.6,882 827.1,918.8 793.9,938.6 C760.7,958.4 738.2,970.5 707.1,989.4 C676,1008.2 640,1030.8 607.4,1051.6 C574.8,1072.4 538.2,1096.5 511.5,1114 C484.9,1131.5 458.3,1149.4 447.6,1156.5" stroke="#fff" stroke-width="24.7" stroke-linecap="square"/>
<path d="M785,930 C786.5,931.2 791.7,934 794,937 C796.3,940 798.2,946.2 799,948" stroke-width="1.88"/>
<path d="M655,1010 C656.3,1011.2 661,1014 663,1017 C665,1020 666.3,1026.2 667,1028" stroke-width="1.88"/>
<path d="M507,856 C509.4,853.3 514.8,847.2 521.6,839.7 C528.4,832.2 540.6,818.1 548,811 C555.4,803.9 545.9,808.6 566,797 C586.1,785.4 651.6,750.7 668.7,741.4" stroke-width="30.3" stroke-linecap="butt"/>
<path d="M507,856 C509.4,853.3 514.8,847.2 521.6,839.7 C528.4,832.2 540.6,818.1 548,811 C555.4,803.9 545.9,808.6 566,797 C586.1,785.4 651.6,750.7 668.7,741.4" stroke="#fff" stroke-width="24.7" stroke-linecap="square"/>
<path d="M551,789 C552.3,790.2 557,792.8 559,796 C561,799.2 562.3,806 563,808" stroke-width="1.88"/>
<path d="M830,1042 C832.5,1039 838.3,1031.7 845,1024 C851.7,1016.3 860.8,1003.7 870,996 C879.2,988.3 879,989.6 900,978 C921,966.4 980.2,934.9 996.3,926.3" stroke-width="30.3" stroke-linecap="butt"/>
<path d="M830,1042 C832.5,1039 838.3,1031.7 845,1024 C851.7,1016.3 860.8,1003.7 870,996 C879.2,988.3 879,989.6 900,978 C921,966.4 980.2,934.9 996.3,926.3" stroke="#fff" stroke-width="24.7" stroke-linecap="square"/>
<path d="M872,977 C873.3,978.3 878,981.7 880,985 C882,988.3 883.3,995 884,997" stroke-width="1.88"/>
<line x1="612" y1="784" x2="652" y2="762" stroke-width="1.88"/>
<line x1="625" y1="781" x2="660" y2="762" stroke-width="1.88"/>
<line x1="700" y1="850" x2="740" y2="829" stroke-width="1.88"/>
<line x1="712" y1="848" x2="748" y2="829" stroke-width="1.88"/>
<line x1="852" y1="913" x2="892" y2="892" stroke-width="1.88"/>
<line x1="860" y1="911" x2="897" y2="892" stroke-width="1.88"/>
<line x1="935" y1="966" x2="970" y2="947" stroke-width="1.88"/>
<line x1="944" y1="964" x2="976" y2="947" stroke-width="1.88"/>
<line x1="610" y1="786" x2="625" y2="778" stroke-width="5.01"/>
<line x1="702" y1="851" x2="716" y2="844" stroke-width="5.01"/>
<line x1="854" y1="914" x2="866" y2="908" stroke-width="5.01"/>
<line x1="936" y1="967" x2="948" y2="961" stroke-width="5.01"/>
<g transform="translate(757.0,792.0) rotate(-28.4)">
<path d="M-2,-11 L3,-15 L15,-15 L15,15 L3,15 L-2,11 Z" stroke-width="3" fill="#fff"/>
<path d="M2,-13 L2,13" stroke-width="1.6"/>
<path d="M6,-9 L11,-9 L11,8" stroke-width="2.2"/>
<path d="M15,-14 L36,-14 Q46,-14 46,0 Q46,14 36,14 L15,14 Z" stroke-width="3" fill="#fff"/>
<path d="M37,-12 Q43,0 37,12" stroke-width="1.8"/>
<path d="M15,-15 L15,15" stroke-width="4.5"/>
</g>
<g transform="translate(668.0,736.0) rotate(-28.3)">
<path d="M-2,-11 L3,-15 L15,-15 L15,15 L3,15 L-2,11 Z" stroke-width="3" fill="#fff"/>
<path d="M2,-13 L2,13" stroke-width="1.6"/>
<path d="M6,-9 L11,-9 L11,8" stroke-width="2.2"/>
<path d="M15,-14 L36,-14 Q46,-14 46,0 Q46,14 36,14 L15,14 Z" stroke-width="3" fill="#fff"/>
<path d="M37,-12 Q43,0 37,12" stroke-width="1.8"/>
<path d="M15,-15 L15,15" stroke-width="4.5"/>
</g>
<g transform="translate(905.0,868.0) rotate(-31.2)">
<path d="M-2,-11 L3,-15 L15,-15 L15,15 L3,15 L-2,11 Z" stroke-width="3" fill="#fff"/>
<path d="M2,-13 L2,13" stroke-width="1.6"/>
<path d="M6,-9 L11,-9 L11,8" stroke-width="2.2"/>
<path d="M15,-14 L36,-14 Q46,-14 46,0 Q46,14 36,14 L15,14 Z" stroke-width="3" fill="#fff"/>
<path d="M37,-12 Q43,0 37,12" stroke-width="1.8"/>
<path d="M15,-15 L15,15" stroke-width="4.5"/>
</g>
<g transform="translate(994.0,923.0) rotate(-28.3)">
<path d="M-2,-11 L3,-15 L15,-15 L15,15 L3,15 L-2,11 Z" stroke-width="3" fill="#fff"/>
<path d="M2,-13 L2,13" stroke-width="1.6"/>
<path d="M6,-9 L11,-9 L11,8" stroke-width="2.2"/>
<path d="M15,-14 L36,-14 Q46,-14 46,0 Q46,14 36,14 L15,14 Z" stroke-width="3" fill="#fff"/>
<path d="M37,-12 Q43,0 37,12" stroke-width="1.8"/>
<path d="M15,-15 L15,15" stroke-width="4.5"/>
</g>
<path d="M715.7,710.3 L736.4,698.2 M742.5,694.7 L763.2,682.6 M769.3,679.1 L790,667 M796,663.5 L816.8,651.4 M822.8,647.9 L843.6,635.8 M849.6,632.2 L852.6,630.5" stroke-width="2.74"/>
<path d="M805.7,766 L826.3,753.7 M832.3,750.1 L852.9,737.7 M858.9,734.1 L879.5,721.8 M885.5,718.2 L906.1,705.9 M912.1,702.3 L932.6,689.9 M938.7,686.3 L945.2,682.4" stroke-width="2.74"/>
<path d="M950.2,843.5 L970.8,831.2 M976.8,827.6 L997.4,815.3 M1003.4,811.7 L1024,799.4 M1030,795.8 L1050.7,783.5 M1056.7,779.9 L1077.3,767.6 M1083.3,764 L1084,763.6" stroke-width="2.74"/>
<path d="M1038.4,894 L1059.1,881.9 M1065.2,878.4 L1085.9,866.3 M1092,862.8 L1112.7,850.7 M1118.7,847.1 L1139.5,835 M1145.5,831.5 L1166.2,819.4 M1172.3,815.9 L1172.8,815.6" stroke-width="2.74"/>
<path d="M960.4,567 L979.3,555.7 M984.5,552.7 L990.5,549.1 M995.6,546 L1014.5,534.8 M1019.7,531.7 L1025.7,528.1 M1030.9,525 L1041,519" stroke-width="2.74"/>
<path d="M1053.6,620.3 L1072.4,608.9 M1077.5,605.8 L1083.5,602.1 M1088.6,599 L1107.5,587.6 M1112.6,584.5 L1118.6,580.9 M1123.7,577.7 L1134.8,571" stroke-width="2.74"/>
<path d="M1193,700 L1211.8,688.5 M1216.9,685.4 L1222.9,681.8 M1228,678.7 L1246.8,667.2 M1251.9,664.1 L1257.9,660.4 M1263,657.3 L1271.7,652" stroke-width="2.74"/>
<path d="M1281.8,752.2 L1300.8,741.1 M1305.9,738 L1312,734.5 M1317.2,731.4 L1336.1,720.3 M1341.3,717.3 L1347.3,713.7 M1352.5,710.7 L1361.7,705.3" stroke-width="2.74"/>
<path d="M941.4,563.2 L947,561.2 L959.6,568.8 L959.6,582 L944.9,587.6 L941.4,584.2 Z" stroke-width="2.96" fill="#fff"/>
<path d="M943.4,575.2 L955.4,568.2" stroke-width="2.09"/>
<path d="M943.4,579.2 L957.4,571.2" stroke-width="2.09"/>
<path d="M884.2,589 L878.4,592.2 L875.8,595.3 L870.9,603 L882.8,626 L890.4,621.8 L903.7,627.4 L920.5,638.6 L933.7,628.1 L934.4,624.6 L935.8,612 L945.6,605.1 L944.9,587.6 L940,568.2 Z" stroke-width="2.96" fill="#fff"/>
<path d="M905.8,626.7 L915.6,621.1 L917.7,623.2 L918.4,635.8" stroke-width="2.74"/>
<line x1="901.6" y1="608.6" x2="901.6" y2="627.4" stroke-width="2.53"/>
<path d="M884.2,589 L907.9,599.5 L915.6,598.8" stroke-width="2.53"/>
<path d="M896,606.5 L900.9,608.6 L913.5,600.9" stroke-width="2.09"/>
<line x1="907.9" y1="588.3" x2="907.9" y2="599.5" stroke-width="2.09"/>
<path d="M880,570.2 L910.4,588.2 L909.4,599.7 L881.4,585.2 Z" stroke-width="2.96" fill="#fff"/>
<path d="M910.4,588.2 L935.4,575.2 L936.4,581.2 L909.4,594.2 Z" stroke-width="2.53" fill="#fff"/>
<path d="M880,570.2 L903.7,556.2 L922.6,552.7 L940,563.2 L935.4,575.2 L910.4,588.2 Z" stroke-width="2.96" fill="#fff"/>
<line x1="884.4" y1="576.2" x2="906.4" y2="589.2" stroke-width="1.66"/>
<path d="M870.9,603 L875.8,595.3 L888.4,601.6 L891.9,612 L891.9,621.8 L882.8,626 Z" stroke-width="2.74" fill="#fff"/>
<line x1="878.4" y1="598.2" x2="887.4" y2="621.2" stroke-width="2.96"/>
<path d="M853.1,614.8 C855.8,612.2 864.9,606.7 869.2,606.5 C873.4,606.3 876.7,611 878.6,613.5 C880.5,616 880.9,619.3 880.7,621.2 C880.5,623.1 879.8,622.6 877.2,624.7 C874.6,626.8 868.8,632.8 865.3,633.7 C861.8,634.6 858.2,632.2 856.1,630.2 C854,628.2 853.3,624.4 852.8,621.8 C852.3,619.2 850.4,617.4 853.1,614.8 Z" stroke-width="3.17" fill="#fff"/>
<ellipse cx="864.4" cy="620.7" rx="3" ry="3.2" stroke-width="2.31" fill="#000"/>
<path d="M903.7,556.2 L903.7,570.2 Q913.4,576.2 924.0,570.2 L924.0,556.2 Z" stroke-width="2.6" fill="#fff"/>
<path d="M905.4,561.2 C906.7,561.8 910.6,564.7 913.4,564.7 C916.2,564.7 920.9,561.8 922.4,561.2" stroke-width="2.31"/>
<path d="M905.4,567.2 C906.7,567.8 910.6,570.7 913.4,570.7 C916.2,570.7 920.9,567.8 922.4,567.2" stroke-width="2.31"/>
<path d="M906.5,553.2 L906.5,529.0 Q909.4,525.7 913.5,526.5 L913.8,532.5 L921.2,532.5 L921.9,553.2 Q914.4,557.2 906.5,553.2 Z" stroke-width="2.4" fill="#fff"/>
<line x1="908.1" y1="530.2" x2="908.1" y2="552.2" stroke-width="4.04"/>
<ellipse cx="906.4" cy="574.2" rx="4.5" ry="3.5" stroke-width="2.96" fill="#fff"/>
<path d="M897.4,573.2 L903.4,578.2 L910.4,578.2 L917.4,573.2" stroke-width="2.96"/>
<path d="M917.4,574.2 L927.4,569.2 L928.4,573.2 L918.4,578.2 Z" stroke-width="1.88"/>
<path d="M1034.9,615.3 L1040.5,613.3 L1053.1,620.9 L1053.1,634.1 L1038.4,639.7 L1034.9,636.3 Z" stroke-width="2.96" fill="#fff"/>
<path d="M1036.9,627.3 L1048.9,620.3" stroke-width="2.09"/>
<path d="M1036.9,631.3 L1050.9,623.3" stroke-width="2.09"/>
<path d="M977.7,641.1 L971.9,644.3 L969.3,647.4 L964.4,655.1 L976.3,678.1 L983.9,673.9 L997.2,679.5 L1014,690.7 L1027.2,680.2 L1027.9,676.7 L1029.3,664.1 L1039.1,657.2 L1038.4,639.7 L1033.5,620.3 Z" stroke-width="2.96" fill="#fff"/>
<path d="M999.3,678.8 L1009.1,673.2 L1011.2,675.3 L1011.9,687.9" stroke-width="2.74"/>
<line x1="995.1" y1="660.7" x2="995.1" y2="679.5" stroke-width="2.53"/>
<path d="M977.7,641.1 L1001.4,651.6 L1009.1,650.9" stroke-width="2.53"/>
<path d="M989.5,658.6 L994.4,660.7 L1007,653" stroke-width="2.09"/>
<line x1="1001.4" y1="640.4" x2="1001.4" y2="651.6" stroke-width="2.09"/>
<path d="M973.5,622.3 L1003.9,640.3 L1002.9,651.8 L974.9,637.3 Z" stroke-width="2.96" fill="#fff"/>
<path d="M1003.9,640.3 L1028.9,627.3 L1029.9,633.3 L1002.9,646.3 Z" stroke-width="2.53" fill="#fff"/>
<path d="M973.5,622.3 L997.2,608.3 L1016.1,604.8 L1033.5,615.3 L1028.9,627.3 L1003.9,640.3 Z" stroke-width="2.96" fill="#fff"/>
<line x1="977.9" y1="628.3" x2="999.9" y2="641.3" stroke-width="1.66"/>
<path d="M964.4,655.1 L969.3,647.4 L981.9,653.7 L985.4,664.1 L985.4,673.9 L976.3,678.1 Z" stroke-width="2.74" fill="#fff"/>
<line x1="971.9" y1="650.3" x2="980.9" y2="673.3" stroke-width="2.96"/>
<path d="M946.6,666.9 C949.3,664.3 958.4,658.8 962.7,658.6 C966.9,658.4 970.2,663.1 972.1,665.6 C974,668 974.4,671.4 974.2,673.3 C974,675.2 973.3,674.7 970.7,676.8 C968.1,678.9 962.3,684.9 958.8,685.8 C955.3,686.7 951.7,684.3 949.6,682.3 C947.5,680.3 946.8,676.5 946.3,673.9 C945.8,671.3 943.9,669.5 946.6,666.9 Z" stroke-width="3.17" fill="#fff"/>
<ellipse cx="957.9" cy="672.8" rx="3" ry="3.2" stroke-width="2.31" fill="#000"/>
<path d="M997.2,608.3 L997.2,622.3 Q1006.9,628.3 1017.5,622.3 L1017.5,608.3 Z" stroke-width="2.6" fill="#fff"/>
<path d="M998.9,613.3 C1000.2,613.9 1004.1,616.8 1006.9,616.8 C1009.7,616.8 1014.4,613.9 1015.9,613.3" stroke-width="2.31"/>
<path d="M998.9,619.3 C1000.2,619.9 1004.1,622.8 1006.9,622.8 C1009.7,622.8 1014.4,619.9 1015.9,619.3" stroke-width="2.31"/>
<path d="M1000.0,605.3 L1000.0,581.1 Q1002.9,577.8 1007.0,578.6 L1007.3,584.6 L1014.7,584.6 L1015.4,605.3 Q1007.9,609.3 1000.0,605.3 Z" stroke-width="2.4" fill="#fff"/>
<line x1="1001.6" y1="582.3" x2="1001.6" y2="604.3" stroke-width="4.04"/>
<ellipse cx="999.9" cy="626.3" rx="4.5" ry="3.5" stroke-width="2.96" fill="#fff"/>
<path d="M990.9,625.3 L996.9,630.3 L1003.9,630.3 L1010.9,625.3" stroke-width="2.96"/>
<path d="M1010.9,626.3 L1020.9,621.3 L1021.9,625.3 L1011.9,630.3 Z" stroke-width="1.88"/>
<path d="M1172.4,697.6 L1178,695.6 L1190.6,703.2 L1190.6,716.4 L1175.9,722 L1172.4,718.6 Z" stroke-width="2.96" fill="#fff"/>
<path d="M1174.4,709.6 L1186.4,702.6" stroke-width="2.09"/>
<path d="M1174.4,713.6 L1188.4,705.6" stroke-width="2.09"/>
<path d="M1115.2,723.4 L1109.4,726.6 L1106.8,729.7 L1101.9,737.4 L1113.8,760.4 L1121.4,756.2 L1134.7,761.8 L1151.5,773 L1164.7,762.5 L1165.4,759 L1166.8,746.4 L1176.6,739.5 L1175.9,722 L1171,702.6 Z" stroke-width="2.96" fill="#fff"/>
<path d="M1136.8,761.1 L1146.6,755.5 L1148.7,757.6 L1149.4,770.2" stroke-width="2.74"/>
<line x1="1132.6" y1="743" x2="1132.6" y2="761.8" stroke-width="2.53"/>
<path d="M1115.2,723.4 L1138.9,733.9 L1146.6,733.2" stroke-width="2.53"/>
<path d="M1127,740.9 L1131.9,743 L1144.5,735.3" stroke-width="2.09"/>
<line x1="1138.9" y1="722.7" x2="1138.9" y2="733.9" stroke-width="2.09"/>
<path d="M1111,704.6 L1141.4,722.6 L1140.4,734.1 L1112.4,719.6 Z" stroke-width="2.96" fill="#fff"/>
<path d="M1141.4,722.6 L1166.4,709.6 L1167.4,715.6 L1140.4,728.6 Z" stroke-width="2.53" fill="#fff"/>
<path d="M1111,704.6 L1134.7,690.6 L1153.6,687.1 L1171,697.6 L1166.4,709.6 L1141.4,722.6 Z" stroke-width="2.96" fill="#fff"/>
<line x1="1115.4" y1="710.6" x2="1137.4" y2="723.6" stroke-width="1.66"/>
<path d="M1101.9,737.4 L1106.8,729.7 L1119.4,736 L1122.9,746.4 L1122.9,756.2 L1113.8,760.4 Z" stroke-width="2.74" fill="#fff"/>
<line x1="1109.4" y1="732.6" x2="1118.4" y2="755.6" stroke-width="2.96"/>
<path d="M1084.1,749.2 C1086.8,746.7 1096,741.1 1100.2,740.9 C1104.5,740.7 1107.7,745.4 1109.6,747.9 C1111.5,750.4 1111.9,753.7 1111.7,755.6 C1111.5,757.5 1110.8,757 1108.2,759.1 C1105.6,761.2 1099.8,767.2 1096.3,768.1 C1092.8,769 1089.2,766.6 1087.1,764.6 C1085,762.6 1084.3,758.8 1083.8,756.2 C1083.3,753.6 1081.4,751.8 1084.1,749.2 Z" stroke-width="3.17" fill="#fff"/>
<ellipse cx="1095.4" cy="755.1" rx="3" ry="3.2" stroke-width="2.31" fill="#000"/>
<path d="M1134.7,690.6 L1134.7,704.6 Q1144.4,710.6 1155.0,704.6 L1155.0,690.6 Z" stroke-width="2.6" fill="#fff"/>
<path d="M1136.4,695.6 C1137.7,696.2 1141.6,699.1 1144.4,699.1 C1147.2,699.1 1151.9,696.2 1153.4,695.6" stroke-width="2.31"/>
<path d="M1136.4,701.6 C1137.7,702.2 1141.6,705.1 1144.4,705.1 C1147.2,705.1 1151.9,702.2 1153.4,701.6" stroke-width="2.31"/>
<path d="M1137.5,687.6 L1137.5,663.4 Q1140.4,660.1 1144.5,660.9 L1144.8,666.9 L1152.2,666.9 L1152.9,687.6 Q1145.4,691.6 1137.5,687.6 Z" stroke-width="2.4" fill="#fff"/>
<line x1="1139.1" y1="664.6" x2="1139.1" y2="686.6" stroke-width="4.04"/>
<ellipse cx="1137.4" cy="708.6" rx="4.5" ry="3.5" stroke-width="2.96" fill="#fff"/>
<path d="M1128.4,707.6 L1134.4,712.6 L1141.4,712.6 L1148.4,707.6" stroke-width="2.96"/>
<path d="M1148.4,708.6 L1158.4,703.6 L1159.4,707.6 L1149.4,712.6 Z" stroke-width="1.88"/>
<path d="M1261.6,749.6 L1267.2,747.6 L1279.8,755.2 L1279.8,768.4 L1265.1,774 L1261.6,770.6 Z" stroke-width="2.96" fill="#fff"/>
<path d="M1263.6,761.6 L1275.6,754.6" stroke-width="2.09"/>
<path d="M1263.6,765.6 L1277.6,757.6" stroke-width="2.09"/>
<path d="M1204.4,775.4 L1198.6,778.6 L1196,781.7 L1191.1,789.4 L1203,812.4 L1210.6,808.2 L1223.9,813.8 L1240.7,825 L1253.9,814.5 L1254.6,811 L1256,798.4 L1265.8,791.5 L1265.1,774 L1260.2,754.6 Z" stroke-width="2.96" fill="#fff"/>
<path d="M1226,813.1 L1235.8,807.5 L1237.9,809.6 L1238.6,822.2" stroke-width="2.74"/>
<line x1="1221.8" y1="795" x2="1221.8" y2="813.8" stroke-width="2.53"/>
<path d="M1204.4,775.4 L1228.1,785.9 L1235.8,785.2" stroke-width="2.53"/>
<path d="M1216.2,792.9 L1221.1,795 L1233.7,787.3" stroke-width="2.09"/>
<line x1="1228.1" y1="774.7" x2="1228.1" y2="785.9" stroke-width="2.09"/>
<path d="M1200.2,756.6 L1230.6,774.6 L1229.6,786.1 L1201.6,771.6 Z" stroke-width="2.96" fill="#fff"/>
<path d="M1230.6,774.6 L1255.6,761.6 L1256.6,767.6 L1229.6,780.6 Z" stroke-width="2.53" fill="#fff"/>
<path d="M1200.2,756.6 L1223.9,742.6 L1242.8,739.1 L1260.2,749.6 L1255.6,761.6 L1230.6,774.6 Z" stroke-width="2.96" fill="#fff"/>
<line x1="1204.6" y1="762.6" x2="1226.6" y2="775.6" stroke-width="1.66"/>
<path d="M1191.1,789.4 L1196,781.7 L1208.6,788 L1212.1,798.4 L1212.1,808.2 L1203,812.4 Z" stroke-width="2.74" fill="#fff"/>
<line x1="1198.6" y1="784.6" x2="1207.6" y2="807.6" stroke-width="2.96"/>
<path d="M1173.3,801.2 C1176,798.7 1185.1,793.1 1189.4,792.9 C1193.6,792.7 1196.9,797.4 1198.8,799.9 C1200.7,802.4 1201.1,805.7 1200.9,807.6 C1200.7,809.5 1200,809 1197.4,811.1 C1194.8,813.2 1189,819.2 1185.5,820.1 C1182,821 1178.4,818.6 1176.3,816.6 C1174.2,814.6 1173.5,810.8 1173,808.2 C1172.5,805.6 1170.6,803.8 1173.3,801.2 Z" stroke-width="3.17" fill="#fff"/>
<ellipse cx="1184.6" cy="807.1" rx="3" ry="3.2" stroke-width="2.31" fill="#000"/>
<path d="M1223.9,742.6 L1223.9,756.6 Q1233.6,762.6 1244.2,756.6 L1244.2,742.6 Z" stroke-width="2.6" fill="#fff"/>
<path d="M1225.6,747.6 C1226.9,748.2 1230.8,751.1 1233.6,751.1 C1236.4,751.1 1241.1,748.2 1242.6,747.6" stroke-width="2.31"/>
<path d="M1225.6,753.6 C1226.9,754.2 1230.8,757.1 1233.6,757.1 C1236.4,757.1 1241.1,754.2 1242.6,753.6" stroke-width="2.31"/>
<path d="M1226.7,739.6 L1226.7,715.4 Q1229.6,712.1 1233.7,712.9 L1234.0,718.9 L1241.4,718.9 L1242.1,739.6 Q1234.6,743.6 1226.7,739.6 Z" stroke-width="2.4" fill="#fff"/>
<line x1="1228.3" y1="716.6" x2="1228.3" y2="738.6" stroke-width="4.04"/>
<ellipse cx="1226.6" cy="760.6" rx="4.5" ry="3.5" stroke-width="2.96" fill="#fff"/>
<path d="M1217.6,759.6 L1223.6,764.6 L1230.6,764.6 L1237.6,759.6" stroke-width="2.96"/>
<path d="M1237.6,760.6 L1247.6,755.6 L1248.6,759.6 L1238.6,764.6 Z" stroke-width="1.88"/>
<ellipse cx="1046.5" cy="517" rx="12.5" ry="15.5" transform="rotate(-22 1046.5 517)" stroke-width="2.96" fill="#fff"/>
<ellipse cx="1046" cy="517.5" rx="7" ry="10" transform="rotate(-22 1046 517.5)" stroke-width="2.53"/>
<path d="M1045,501.9 C1045.2,501.9 1045.9,502 1046.4,502 C1046.9,502.1 1047.4,502.2 1047.8,502.4 C1048.3,502.5 1048.8,502.7 1049.2,502.9 C1049.7,503.1 1050.1,503.3 1050.6,503.5 C1051,503.8 1051.5,504.1 1051.9,504.4 C1052.3,504.7 1052.8,505 1053.2,505.3 C1053.6,505.7 1054,506.1 1054.3,506.4 C1054.7,506.8 1055.1,507.3 1055.4,507.7 C1055.7,508.1 1056.1,508.6 1056.4,509 C1056.7,509.5 1057,510 1057.2,510.5 C1057.5,511 1057.7,511.5 1058,512 C1058.2,512.5 1058.4,513.1 1058.6,513.6 C1058.7,514.1 1058.9,514.7 1059,515.2 C1059.1,515.8 1059.2,516.3 1059.3,516.9 C1059.4,517.4 1059.4,518 1059.4,518.5 C1059.5,519 1059.5,519.6 1059.4,520.1 C1059.4,520.7 1059.4,521.2 1059.3,521.7 C1059.2,522.2 1059.1,522.8 1059,523.3 C1058.8,523.8 1058.7,524.2 1058.5,524.7 C1058.3,525.2 1058.1,525.6 1057.9,526.1 C1057.7,526.5 1057.4,526.9 1057.2,527.3 C1056.9,527.7 1056.6,528.1 1056.3,528.5 C1056,528.8 1055.7,529.2 1055.3,529.5 C1055,529.8 1054.4,530.2 1054.2,530.3" stroke-width="4.69"/>
<ellipse cx="1139.3" cy="569.6" rx="12.5" ry="15.5" transform="rotate(-22 1139.3 569.6)" stroke-width="2.96" fill="#fff"/>
<ellipse cx="1138.8" cy="570.1" rx="7" ry="10" transform="rotate(-22 1138.8 570.1)" stroke-width="2.53"/>
<path d="M1137.8,554.5 C1138,554.5 1138.7,554.6 1139.2,554.6 C1139.7,554.7 1140.2,554.8 1140.6,555 C1141.1,555.1 1141.6,555.3 1142,555.5 C1142.5,555.7 1142.9,555.9 1143.4,556.1 C1143.8,556.4 1144.3,556.7 1144.7,557 C1145.1,557.3 1145.6,557.6 1146,557.9 C1146.4,558.3 1146.8,558.7 1147.1,559 C1147.5,559.4 1147.9,559.9 1148.2,560.3 C1148.5,560.7 1148.9,561.2 1149.2,561.6 C1149.5,562.1 1149.8,562.6 1150,563.1 C1150.3,563.6 1150.5,564.1 1150.8,564.6 C1151,565.1 1151.2,565.7 1151.4,566.2 C1151.5,566.7 1151.7,567.3 1151.8,567.8 C1151.9,568.4 1152,568.9 1152.1,569.5 C1152.2,570 1152.2,570.6 1152.2,571.1 C1152.3,571.6 1152.3,572.2 1152.2,572.7 C1152.2,573.3 1152.2,573.8 1152.1,574.3 C1152,574.8 1151.9,575.4 1151.8,575.9 C1151.6,576.4 1151.5,576.8 1151.3,577.3 C1151.1,577.8 1150.9,578.2 1150.7,578.7 C1150.5,579.1 1150.2,579.5 1150,579.9 C1149.7,580.3 1149.4,580.7 1149.1,581.1 C1148.8,581.4 1148.5,581.8 1148.1,582.1 C1147.8,582.4 1147.2,582.8 1147,582.9" stroke-width="4.69"/>
<ellipse cx="1277.3" cy="649.5" rx="12.5" ry="15.5" transform="rotate(-22 1277.3 649.5)" stroke-width="2.96" fill="#fff"/>
<ellipse cx="1276.8" cy="650" rx="7" ry="10" transform="rotate(-22 1276.8 650)" stroke-width="2.53"/>
<path d="M1275.8,634.4 C1276,634.4 1276.7,634.5 1277.2,634.5 C1277.7,634.6 1278.2,634.7 1278.6,634.9 C1279.1,635 1279.6,635.2 1280,635.4 C1280.5,635.6 1280.9,635.8 1281.4,636 C1281.8,636.3 1282.3,636.6 1282.7,636.9 C1283.1,637.2 1283.6,637.5 1284,637.8 C1284.4,638.2 1284.8,638.6 1285.1,638.9 C1285.5,639.3 1285.9,639.8 1286.2,640.2 C1286.5,640.6 1286.9,641.1 1287.2,641.5 C1287.5,642 1287.8,642.5 1288,643 C1288.3,643.5 1288.5,644 1288.8,644.5 C1289,645 1289.2,645.6 1289.4,646.1 C1289.5,646.6 1289.7,647.2 1289.8,647.7 C1289.9,648.3 1290,648.8 1290.1,649.4 C1290.2,649.9 1290.2,650.5 1290.2,651 C1290.3,651.5 1290.3,652.1 1290.2,652.6 C1290.2,653.2 1290.2,653.7 1290.1,654.2 C1290,654.7 1289.9,655.3 1289.8,655.8 C1289.6,656.3 1289.5,656.7 1289.3,657.2 C1289.1,657.7 1288.9,658.1 1288.7,658.6 C1288.5,659 1288.2,659.4 1288,659.8 C1287.7,660.2 1287.4,660.6 1287.1,661 C1286.8,661.3 1286.5,661.7 1286.1,662 C1285.8,662.3 1285.2,662.7 1285,662.8" stroke-width="4.69"/>
<ellipse cx="1367" cy="702.3" rx="12.5" ry="15.5" transform="rotate(-22 1367 702.3)" stroke-width="2.96" fill="#fff"/>
<ellipse cx="1366.5" cy="702.8" rx="7" ry="10" transform="rotate(-22 1366.5 702.8)" stroke-width="2.53"/>
<path d="M1365.5,687.2 C1365.7,687.2 1366.4,687.3 1366.9,687.3 C1367.4,687.4 1367.9,687.5 1368.3,687.7 C1368.8,687.8 1369.3,688 1369.7,688.2 C1370.2,688.4 1370.6,688.6 1371.1,688.8 C1371.5,689.1 1372,689.4 1372.4,689.7 C1372.8,690 1373.3,690.3 1373.7,690.6 C1374.1,691 1374.5,691.4 1374.8,691.7 C1375.2,692.1 1375.6,692.6 1375.9,693 C1376.2,693.4 1376.6,693.9 1376.9,694.3 C1377.2,694.8 1377.5,695.3 1377.7,695.8 C1378,696.3 1378.2,696.8 1378.5,697.3 C1378.7,697.8 1378.9,698.4 1379.1,698.9 C1379.2,699.4 1379.4,700 1379.5,700.5 C1379.6,701.1 1379.7,701.6 1379.8,702.2 C1379.9,702.7 1379.9,703.3 1379.9,703.8 C1380,704.3 1380,704.9 1379.9,705.4 C1379.9,706 1379.9,706.5 1379.8,707 C1379.7,707.5 1379.6,708.1 1379.5,708.6 C1379.3,709.1 1379.2,709.5 1379,710 C1378.8,710.5 1378.6,710.9 1378.4,711.4 C1378.2,711.8 1377.9,712.2 1377.7,712.6 C1377.4,713 1377.1,713.4 1376.8,713.8 C1376.5,714.1 1376.2,714.5 1375.8,714.8 C1375.5,715.1 1374.9,715.5 1374.7,715.6" stroke-width="4.69"/>
<path d="M394.6,850 L394.6,856.3 L343.9,884.9 L341.8,889.1 L319.6,889.1 L305.9,896.5 L305.9,902.8 L286.9,911.3 L284,924" stroke-width="3.17" fill="#fff"/>
<path d="M300,930 L337.6,921.8 L352.4,933.4 L337.6,944 L365.1,959.9 L379.9,951.4 L375.6,945.1 L374.6,936.6 L386.2,931.3 L386.2,918.7 L391.5,922.9 L447.5,889.1 L430,870 Z" stroke-width="3.17" fill="#fff"/>
<ellipse cx="355.6" cy="943" rx="5.5" ry="3.5" stroke-width="2.53"/>
<line x1="346" y1="921" x2="370" y2="935" stroke-width="1.88"/>
<line x1="359" y1="935" x2="370" y2="941" stroke-width="1.88"/>
<line x1="395" y1="915.5" x2="418" y2="901.8" stroke-width="2.09"/>
<line x1="422" y1="898.6" x2="439" y2="889.1" stroke-width="2.09"/>
<path d="M404,868 L290,935" stroke-width="22.8" stroke-linecap="butt"/>
<path d="M404,868 L290,935" stroke="#fff" stroke-width="17.2" stroke-linecap="square"/>
<ellipse cx="290" cy="936.5" rx="8.5" ry="11.5" transform="rotate(-30 290 936.5)" stroke-width="3.39" fill="#fff"/>
<ellipse cx="288" cy="938" rx="3.5" ry="4.5" transform="rotate(-30 288 938)" stroke-width="2.09"/>
<path d="M291.1,925.5 C291.3,925.5 291.6,925.6 291.9,925.6 C292.1,925.7 292.4,925.7 292.6,925.8 C292.9,925.9 293.1,926 293.4,926 C293.6,926.1 293.9,926.3 294.1,926.4 C294.3,926.5 294.6,926.6 294.8,926.8 C295,926.9 295.3,927 295.5,927.2 C295.7,927.4 295.9,927.5 296.2,927.7 C296.4,927.9 296.6,928.1 296.8,928.3 C297,928.5 297.2,928.7 297.4,928.9 C297.6,929.1 297.8,929.3 298,929.6 C298.1,929.8 298.3,930 298.5,930.3 C298.6,930.5 298.8,930.7 298.9,931 C299.1,931.3 299.2,931.5 299.3,931.8 C299.5,932 299.6,932.3 299.7,932.6 C299.8,932.8 299.9,933.1 300,933.4 C300.1,933.7 300.2,933.9 300.2,934.2 C300.3,934.5 300.3,934.8 300.4,935 C300.4,935.3 300.5,935.6 300.5,935.9 C300.5,936.1 300.5,936.4 300.5,936.7 C300.5,937 300.5,937.2 300.5,937.5 C300.5,937.8 300.5,938 300.4,938.3 C300.4,938.6 300.3,938.8 300.3,939.1 C300.2,939.3 300.2,939.6 300.1,939.8 C300,940 299.8,940.4 299.8,940.5" stroke-width="1.66"/>
<line x1="312" y1="905" x2="318" y2="911" stroke-width="1.88"/>
<ellipse cx="306" cy="914" rx="4" ry="2.5" stroke-width="2.74"/>
<path d="M717.3,1034 L717.3,1040.3 L666.6,1068.9 L664.5,1073.1 L642.3,1073.1 L628.6,1080.5 L628.6,1086.8 L609.6,1095.3 L606.7,1108" stroke-width="3.17" fill="#fff"/>
<path d="M622.7,1114 L660.3,1105.8 L675.1,1117.4 L660.3,1128 L687.8,1143.9 L702.6,1135.4 L698.3,1129.1 L697.3,1120.6 L708.9,1115.3 L708.9,1102.7 L714.2,1106.9 L770.2,1073.1 L752.7,1054 Z" stroke-width="3.17" fill="#fff"/>
<ellipse cx="678.3" cy="1127" rx="5.5" ry="3.5" stroke-width="2.53"/>
<line x1="668.7" y1="1105" x2="692.7" y2="1119" stroke-width="1.88"/>
<line x1="681.7" y1="1119" x2="692.7" y2="1125" stroke-width="1.88"/>
<line x1="717.7" y1="1099.5" x2="740.7" y2="1085.8" stroke-width="2.09"/>
<line x1="744.7" y1="1082.6" x2="761.7" y2="1073.1" stroke-width="2.09"/>
<path d="M726.7,1052 L612.7,1119" stroke-width="22.8" stroke-linecap="butt"/>
<path d="M726.7,1052 L612.7,1119" stroke="#fff" stroke-width="17.2" stroke-linecap="square"/>
<ellipse cx="612.7" cy="1120.5" rx="8.5" ry="11.5" transform="rotate(-30 612.7 1120.5)" stroke-width="3.39" fill="#fff"/>
<ellipse cx="610.7" cy="1122" rx="3.5" ry="4.5" transform="rotate(-30 610.7 1122)" stroke-width="2.09"/>
<path d="M613.8,1109.5 C614,1109.5 614.3,1109.6 614.6,1109.6 C614.8,1109.7 615.1,1109.7 615.3,1109.8 C615.6,1109.9 615.8,1110 616.1,1110 C616.3,1110.1 616.6,1110.3 616.8,1110.4 C617,1110.5 617.3,1110.6 617.5,1110.8 C617.7,1110.9 618,1111 618.2,1111.2 C618.4,1111.4 618.6,1111.5 618.9,1111.7 C619.1,1111.9 619.3,1112.1 619.5,1112.3 C619.7,1112.5 619.9,1112.7 620.1,1112.9 C620.3,1113.1 620.5,1113.3 620.7,1113.6 C620.8,1113.8 621,1114 621.2,1114.3 C621.3,1114.5 621.5,1114.7 621.6,1115 C621.8,1115.3 621.9,1115.5 622,1115.8 C622.2,1116 622.3,1116.3 622.4,1116.6 C622.5,1116.8 622.6,1117.1 622.7,1117.4 C622.8,1117.7 622.9,1117.9 622.9,1118.2 C623,1118.5 623,1118.8 623.1,1119 C623.1,1119.3 623.2,1119.6 623.2,1119.9 C623.2,1120.1 623.2,1120.4 623.2,1120.7 C623.2,1121 623.2,1121.2 623.2,1121.5 C623.2,1121.8 623.2,1122 623.1,1122.3 C623.1,1122.6 623,1122.8 623,1123.1 C622.9,1123.3 622.9,1123.6 622.8,1123.8 C622.7,1124 622.5,1124.4 622.5,1124.5" stroke-width="1.66"/>
<line x1="634.7" y1="1089" x2="640.7" y2="1095" stroke-width="1.88"/>
<ellipse cx="628.7" cy="1098" rx="4" ry="2.5" stroke-width="2.74"/>
<path d="M147.2,995.2 L168.9,985.2 L169.8,973.4 L178,967.1 L188.8,960.7 L206.9,970.7 L212,972 L200,990" stroke-width="3.17" fill="#fff"/>
<path d="M154,1023 L218.9,989.9 L242.1,1003.9 L246.3,994.1 L247.7,994.1 L270.3,1006.1 L270.3,1011.7 L258.3,1022.3 L254.1,1018 L248.5,1018 L242.1,1013.1 L238.6,1013.8 L220.3,1013.8 L217.5,1016.6 L217.5,1025.1 L157.6,1050.4 L152,1042 Z" stroke-width="3.17" fill="#fff"/>
<ellipse cx="248.5" cy="1004.6" rx="3" ry="3" stroke-width="2.74"/>
<line x1="186.5" y1="1032.8" x2="210.4" y2="1019.4" stroke-width="2.09"/>
<line x1="157.6" y1="1047.6" x2="180.8" y2="1036.3" stroke-width="2.09"/>
<line x1="257" y1="1018" x2="268" y2="1010" stroke-width="1.88"/>
<path d="M140,1018 L264,952" stroke-width="21.8" stroke-linecap="butt"/>
<path d="M140,1018 L264,952" stroke="#fff" stroke-width="16.2" stroke-linecap="square"/>
<ellipse cx="265.5" cy="951.5" rx="6" ry="10" transform="rotate(-25 265.5 951.5)" stroke-width="3.39" fill="#fff"/>
<path d="M263.4,944 C263.5,944 263.7,944 263.9,944 C264.1,944 264.3,944 264.5,944.1 C264.7,944.1 264.9,944.2 265.1,944.3 C265.3,944.3 265.5,944.4 265.7,944.5 C265.9,944.7 266.1,944.8 266.3,944.9 C266.5,945.1 266.7,945.2 267,945.4 C267.2,945.6 267.4,945.7 267.5,945.9 C267.7,946.1 267.9,946.3 268.1,946.5 C268.3,946.8 268.5,947 268.7,947.2 C268.9,947.5 269,947.7 269.2,948 C269.4,948.2 269.5,948.5 269.7,948.8 C269.8,949 269.9,949.3 270.1,949.6 C270.2,949.9 270.3,950.2 270.4,950.5 C270.6,950.7 270.7,951 270.7,951.3 C270.8,951.6 270.9,951.9 271,952.2 C271.1,952.5 271.1,952.8 271.2,953.1 C271.2,953.3 271.2,953.6 271.3,953.9 C271.3,954.2 271.3,954.4 271.3,954.7 C271.3,955 271.3,955.2 271.3,955.5 C271.2,955.7 271.2,956 271.1,956.2 C271.1,956.4 271,956.6 271,956.8 C270.9,957 270.8,957.2 270.7,957.4 C270.6,957.6 270.5,957.7 270.4,957.9 C270.3,958.1 270.1,958.2 270,958.3" stroke-width="1.66"/>
<line x1="184" y1="974" x2="193" y2="978" stroke-width="3.39"/>
<line x1="170" y1="1000" x2="180" y2="996" stroke-width="1.45"/>
<path d="M474.2,1183.2 L495.9,1173.2 L496.8,1161.4 L505,1155.1 L515.8,1148.7 L533.9,1158.7 L539,1160 L527,1178" stroke-width="3.17" fill="#fff"/>
<path d="M481,1211 L545.9,1177.9 L569.1,1191.9 L573.3,1182.1 L574.7,1182.1 L597.3,1194.1 L597.3,1199.7 L585.3,1210.3 L581.1,1206 L575.5,1206 L569.1,1201.1 L565.6,1201.8 L547.3,1201.8 L544.5,1204.6 L544.5,1213.1 L484.6,1238.4 L479,1230 Z" stroke-width="3.17" fill="#fff"/>
<ellipse cx="575.5" cy="1192.6" rx="3" ry="3" stroke-width="2.74"/>
<line x1="513.5" y1="1220.8" x2="537.4" y2="1207.4" stroke-width="2.09"/>
<line x1="484.6" y1="1235.6" x2="507.8" y2="1224.3" stroke-width="2.09"/>
<line x1="584" y1="1206" x2="595" y2="1198" stroke-width="1.88"/>
<path d="M467,1206 L591,1140" stroke-width="21.8" stroke-linecap="butt"/>
<path d="M467,1206 L591,1140" stroke="#fff" stroke-width="16.2" stroke-linecap="square"/>
<ellipse cx="592.5" cy="1139.5" rx="6" ry="10" transform="rotate(-25 592.5 1139.5)" stroke-width="3.39" fill="#fff"/>
<path d="M590.4,1132 C590.5,1132 590.7,1132 590.9,1132 C591.1,1132 591.3,1132 591.5,1132.1 C591.7,1132.1 591.9,1132.2 592.1,1132.3 C592.3,1132.3 592.5,1132.4 592.7,1132.5 C592.9,1132.7 593.1,1132.8 593.3,1132.9 C593.5,1133.1 593.7,1133.2 594,1133.4 C594.2,1133.6 594.4,1133.7 594.5,1133.9 C594.7,1134.1 594.9,1134.3 595.1,1134.5 C595.3,1134.8 595.5,1135 595.7,1135.2 C595.9,1135.5 596,1135.7 596.2,1136 C596.4,1136.2 596.5,1136.5 596.7,1136.8 C596.8,1137 596.9,1137.3 597.1,1137.6 C597.2,1137.9 597.3,1138.2 597.4,1138.5 C597.6,1138.7 597.7,1139 597.7,1139.3 C597.8,1139.6 597.9,1139.9 598,1140.2 C598.1,1140.5 598.1,1140.8 598.2,1141.1 C598.2,1141.3 598.2,1141.6 598.3,1141.9 C598.3,1142.2 598.3,1142.4 598.3,1142.7 C598.3,1143 598.3,1143.2 598.3,1143.5 C598.2,1143.7 598.2,1144 598.1,1144.2 C598.1,1144.4 598,1144.6 598,1144.8 C597.9,1145 597.8,1145.2 597.7,1145.4 C597.6,1145.6 597.5,1145.7 597.4,1145.9 C597.3,1146.1 597.1,1146.2 597,1146.3" stroke-width="1.66"/>
<line x1="511" y1="1162" x2="520" y2="1166" stroke-width="3.39"/>
<line x1="497" y1="1188" x2="507" y2="1184" stroke-width="1.45"/>
<ellipse cx="398" cy="1227" rx="63" ry="38" stroke-width="3.17" fill="#fff"/>
<path d="M459.7,884 C461.6,886.5 466.2,896.5 470.9,898.8 C475.6,901.1 483.4,899.9 488.1,897.9 C492.8,895.9 497.4,888.6 499.3,886.8" stroke-width="2.96" fill="#fff"/>
<path d="M403.6,828 L398.1,834 L394.6,842 L394.6,856 L404.8,863.6 L411.6,875.6 L419.4,879 L436.6,884.2 L462.3,885 L488.1,882.5 L505.3,870.4 L513.9,861 L517.3,848.1 L516.1,838 L508.6,828 Z" stroke-width="3.17" fill="#fff"/>
<path d="M506,852.6 C505.6,853.2 504.5,854.7 503.7,855.7 C502.8,856.7 501.9,857.7 500.9,858.7 C499.9,859.6 498.8,860.5 497.7,861.4 C496.6,862.3 495.4,863.1 494.2,863.9 C492.9,864.7 491.6,865.5 490.3,866.2 C488.9,866.9 487.5,867.6 486.1,868.2 C484.7,868.8 483.2,869.4 481.7,869.9 C480.2,870.5 478.6,871 477,871.4 C475.5,871.8 473.8,872.2 472.2,872.5 C470.6,872.8 468.9,873.1 467.2,873.3 C465.6,873.6 463.9,873.7 462.2,873.8 C460.5,873.9 458.8,874 457.1,874 C455.4,874 453.7,873.9 452,873.8 C450.3,873.7 448.6,873.6 447,873.3 C445.3,873.1 443.6,872.8 442,872.5 C440.4,872.2 438.7,871.8 437.2,871.4 C435.6,871 434,870.5 432.5,869.9 C431,869.4 429.5,868.8 428.1,868.2 C426.7,867.6 425.3,866.9 423.9,866.2 C422.6,865.5 421.3,864.7 420,863.9 C418.8,863.1 417.6,862.3 416.5,861.4 C415.4,860.5 414.3,859.6 413.3,858.7 C412.3,857.7 411.4,856.7 410.5,855.7 C409.7,854.7 408.6,853.2 408.2,852.6" stroke-width="2.31" stroke-dasharray="16 5"/>
<path d="M403.6,792.0 L403.6,832.0 A52.5,26.0 0 0 0 508.6,832.0 L508.6,792.0 Z" stroke-width="2.8" fill="#fff"/>
<path d="M503.9,803.1 C503.6,803.5 502.9,804.7 502.2,805.5 C501.6,806.3 500.8,807.1 500,807.8 C499.2,808.6 498.3,809.3 497.3,810 C496.3,810.7 495.2,811.4 494,812 C492.9,812.7 491.6,813.3 490.3,813.9 C489,814.5 487.7,815 486.2,815.6 C484.8,816.1 483.3,816.6 481.8,817 C480.2,817.4 478.6,817.8 477,818.2 C475.4,818.6 473.7,818.9 472,819.2 C470.3,819.4 468.6,819.7 466.8,819.8 C465.1,820 463.3,820.2 461.5,820.3 C459.7,820.4 457.9,820.4 456.1,820.4 C454.3,820.4 452.5,820.4 450.7,820.3 C448.9,820.2 447.1,820 445.4,819.8 C443.6,819.7 441.9,819.4 440.2,819.2 C438.5,818.9 436.8,818.6 435.2,818.2 C433.6,817.8 432,817.4 430.4,817 C428.9,816.6 427.4,816.1 426,815.6 C424.5,815 423.2,814.5 421.9,813.9 C420.6,813.3 419.3,812.7 418.2,812 C417,811.4 415.9,810.7 414.9,810 C413.9,809.3 413,808.6 412.2,807.8 C411.4,807.1 410.6,806.3 410,805.5 C409.3,804.7 408.6,803.5 408.3,803.1" stroke-width="2.31" stroke-dasharray="30 5"/>
<path d="M503.9,808.1 C503.6,808.5 502.9,809.7 502.2,810.5 C501.6,811.3 500.8,812.1 500,812.8 C499.2,813.6 498.3,814.3 497.3,815 C496.3,815.7 495.2,816.4 494,817 C492.9,817.7 491.6,818.3 490.3,818.9 C489,819.5 487.7,820 486.2,820.6 C484.8,821.1 483.3,821.6 481.8,822 C480.2,822.4 478.6,822.8 477,823.2 C475.4,823.6 473.7,823.9 472,824.2 C470.3,824.4 468.6,824.7 466.8,824.8 C465.1,825 463.3,825.2 461.5,825.3 C459.7,825.4 457.9,825.4 456.1,825.4 C454.3,825.4 452.5,825.4 450.7,825.3 C448.9,825.2 447.1,825 445.4,824.8 C443.6,824.7 441.9,824.4 440.2,824.2 C438.5,823.9 436.8,823.6 435.2,823.2 C433.6,822.8 432,822.4 430.4,822 C428.9,821.6 427.4,821.1 426,820.6 C424.5,820 423.2,819.5 421.9,818.9 C420.6,818.3 419.3,817.7 418.2,817 C417,816.4 415.9,815.7 414.9,815 C413.9,814.3 413,813.6 412.2,812.8 C411.4,812.1 410.6,811.3 410,810.5 C409.3,809.7 408.6,808.5 408.3,808.1" stroke-width="2.96" stroke-dasharray="8 2"/>
<path d="M503.9,814.1 C503.6,814.5 502.9,815.7 502.2,816.5 C501.6,817.3 500.8,818.1 500,818.8 C499.2,819.6 498.3,820.3 497.3,821 C496.3,821.7 495.2,822.4 494,823 C492.9,823.7 491.6,824.3 490.3,824.9 C489,825.5 487.7,826 486.2,826.6 C484.8,827.1 483.3,827.6 481.8,828 C480.2,828.4 478.6,828.8 477,829.2 C475.4,829.6 473.7,829.9 472,830.2 C470.3,830.4 468.6,830.7 466.8,830.8 C465.1,831 463.3,831.2 461.5,831.3 C459.7,831.4 457.9,831.4 456.1,831.4 C454.3,831.4 452.5,831.4 450.7,831.3 C448.9,831.2 447.1,831 445.4,830.8 C443.6,830.7 441.9,830.4 440.2,830.2 C438.5,829.9 436.8,829.6 435.2,829.2 C433.6,828.8 432,828.4 430.4,828 C428.9,827.6 427.4,827.1 426,826.6 C424.5,826 423.2,825.5 421.9,824.9 C420.6,824.3 419.3,823.7 418.2,823 C417,822.4 415.9,821.7 414.9,821 C413.9,820.3 413,819.6 412.2,818.8 C411.4,818.1 410.6,817.3 410,816.5 C409.3,815.7 408.6,814.5 408.3,814.1" stroke-width="2.53" stroke-dasharray="26 4"/>
<path d="M503.9,820.1 C503.6,820.5 502.9,821.7 502.2,822.5 C501.6,823.3 500.8,824.1 500,824.8 C499.2,825.6 498.3,826.3 497.3,827 C496.3,827.7 495.2,828.4 494,829 C492.9,829.7 491.6,830.3 490.3,830.9 C489,831.5 487.7,832 486.2,832.6 C484.8,833.1 483.3,833.6 481.8,834 C480.2,834.4 478.6,834.8 477,835.2 C475.4,835.6 473.7,835.9 472,836.2 C470.3,836.4 468.6,836.7 466.8,836.8 C465.1,837 463.3,837.2 461.5,837.3 C459.7,837.4 457.9,837.4 456.1,837.4 C454.3,837.4 452.5,837.4 450.7,837.3 C448.9,837.2 447.1,837 445.4,836.8 C443.6,836.7 441.9,836.4 440.2,836.2 C438.5,835.9 436.8,835.6 435.2,835.2 C433.6,834.8 432,834.4 430.4,834 C428.9,833.6 427.4,833.1 426,832.6 C424.5,832 423.2,831.5 421.9,830.9 C420.6,830.3 419.3,829.7 418.2,829 C417,828.4 415.9,827.7 414.9,827 C413.9,826.3 413,825.6 412.2,824.8 C411.4,824.1 410.6,823.3 410,822.5 C409.3,821.7 408.6,820.5 408.3,820.1" stroke-width="2.09" stroke-dasharray="30 5"/>
<path d="M503.9,824.1 C503.6,824.5 502.9,825.7 502.2,826.5 C501.6,827.3 500.8,828.1 500,828.8 C499.2,829.6 498.3,830.3 497.3,831 C496.3,831.7 495.2,832.4 494,833 C492.9,833.7 491.6,834.3 490.3,834.9 C489,835.5 487.7,836 486.2,836.6 C484.8,837.1 483.3,837.6 481.8,838 C480.2,838.4 478.6,838.8 477,839.2 C475.4,839.6 473.7,839.9 472,840.2 C470.3,840.4 468.6,840.7 466.8,840.8 C465.1,841 463.3,841.2 461.5,841.3 C459.7,841.4 457.9,841.4 456.1,841.4 C454.3,841.4 452.5,841.4 450.7,841.3 C448.9,841.2 447.1,841 445.4,840.8 C443.6,840.7 441.9,840.4 440.2,840.2 C438.5,839.9 436.8,839.6 435.2,839.2 C433.6,838.8 432,838.4 430.4,838 C428.9,837.6 427.4,837.1 426,836.6 C424.5,836 423.2,835.5 421.9,834.9 C420.6,834.3 419.3,833.7 418.2,833 C417,832.4 415.9,831.7 414.9,831 C413.9,830.3 413,829.6 412.2,828.8 C411.4,828.1 410.6,827.3 410,826.5 C409.3,825.7 408.6,824.5 408.3,824.1" stroke-width="2.09" stroke-dasharray="30 5"/>
<line x1="413.1" y1="837" x2="413.1" y2="854" stroke-width="1.88" stroke-dasharray="2 5"/>
<ellipse cx="415.1" cy="864" rx="2" ry="2" stroke-width="1.77" fill="#000"/>
<ellipse cx="456.1" cy="792" rx="52.5" ry="32.5" stroke-width="3.61" fill="#fff"/>
<ellipse cx="456.1" cy="793" rx="48.5" ry="28.5" stroke-width="1.77" stroke-dasharray="30 4"/>
<path d="M492.5,791.6 C492.3,792.1 492.1,793.6 491.8,794.5 C491.5,795.5 491.1,796.4 490.6,797.4 C490.1,798.3 489.5,799.2 488.8,800.1 C488.2,801 487.4,801.9 486.6,802.7 C485.8,803.5 484.9,804.3 483.9,805.1 C482.9,805.8 481.9,806.5 480.8,807.2 C479.7,807.9 478.5,808.5 477.3,809.1 C476,809.6 474.7,810.2 473.4,810.6 C472.1,811.1 470.7,811.5 469.3,811.9 C467.9,812.2 466.5,812.5 465,812.8 C463.6,813 462.1,813.2 460.6,813.3 C459.1,813.4 457.6,813.5 456.1,813.5 C454.6,813.5 453.1,813.4 451.6,813.3 C450.1,813.2 448.6,813 447.2,812.8 C445.7,812.5 444.3,812.2 442.9,811.9 C441.5,811.5 440.1,811.1 438.8,810.6 C437.5,810.2 436.2,809.6 434.9,809.1 C433.7,808.5 432.5,807.9 431.4,807.2 C430.3,806.5 429.3,805.8 428.3,805.1 C427.3,804.3 426.4,803.5 425.6,802.7 C424.8,801.9 424,801 423.4,800.1 C422.7,799.2 422.1,798.3 421.6,797.4 C421.1,796.4 420.7,795.5 420.4,794.5 C420.1,793.6 419.9,792.1 419.7,791.6" stroke-width="3.39"/>
<path d="M427.9,782.7 C428.1,782.3 428.7,781.4 429.1,780.8 C429.5,780.2 430,779.6 430.6,779 C431.1,778.4 431.7,777.9 432.3,777.3 C432.9,776.8 433.6,776.3 434.3,775.8 C435,775.3 435.7,774.8 436.5,774.4 C437.3,773.9 438.1,773.5 438.9,773.1 C439.7,772.7 440.6,772.4 441.5,772 C442.4,771.7 443.3,771.4 444.2,771.1 C445.2,770.9 446.1,770.6 447.1,770.4 C448,770.2 449,770.1 450,769.9 C451,769.8 452,769.7 453.1,769.6 C454.1,769.5 455.1,769.5 456.1,769.5 C457.1,769.5 458.1,769.5 459.1,769.6 C460.2,769.7 461.2,769.8 462.2,769.9 C463.2,770.1 464.2,770.2 465.1,770.4 C466.1,770.6 467,770.9 468,771.1 C468.9,771.4 469.8,771.7 470.7,772 C471.6,772.4 472.5,772.7 473.3,773.1 C474.1,773.5 474.9,773.9 475.7,774.4 C476.5,774.8 477.2,775.3 477.9,775.8 C478.6,776.3 479.3,776.8 479.9,777.3 C480.5,777.9 481.1,778.4 481.6,779 C482.2,779.6 482.7,780.2 483.1,780.8 C483.5,781.4 484.1,782.3 484.3,782.7" stroke-width="1.45" stroke-dasharray="3 4"/>
<path d="M441.2,776.3 C441.4,776.2 441.9,775.8 442.3,775.6 C442.7,775.4 443.1,775.2 443.5,775 C443.9,774.8 444.3,774.7 444.7,774.5 C445.1,774.3 445.6,774.1 446,774 C446.5,773.8 446.9,773.7 447.4,773.5 C447.8,773.4 448.3,773.2 448.8,773.1 C449.3,773 449.8,772.9 450.3,772.8 C450.8,772.7 451.3,772.6 451.8,772.5 C452.3,772.4 452.8,772.3 453.3,772.3 C453.9,772.2 454.4,772.2 454.9,772.1 C455.4,772.1 456,772.1 456.5,772 C457,772 457.6,772 458.1,772 C458.6,772 459.2,772 459.7,772 C460.2,772.1 460.8,772.1 461.3,772.1 C461.8,772.2 462.3,772.2 462.9,772.3 C463.4,772.3 463.9,772.4 464.4,772.5 C464.9,772.6 465.4,772.7 465.9,772.8 C466.4,772.9 466.9,773 467.4,773.1 C467.9,773.2 468.4,773.4 468.8,773.5 C469.3,773.7 469.7,773.8 470.2,774 C470.6,774.1 471.1,774.3 471.5,774.5 C471.9,774.7 472.3,774.8 472.7,775 C473.1,775.2 473.5,775.4 473.9,775.6 C474.3,775.8 474.8,776.2 475,776.3" stroke-width="1.88" stroke-dasharray="10 5"/>
<path d="M424.1,786 C425.4,787.2 429.1,791.2 432.1,793 C435.1,794.8 440.4,796.3 442.1,797" stroke-width="1.88" stroke-dasharray="2 3"/>
<path d="M468.1,798 C469.8,797.2 474.8,794.8 478.1,793 C481.4,791.2 486.4,788 488.1,787" stroke-width="2.96"/>
<line x1="476.1" y1="790" x2="482.1" y2="780" stroke-width="1.88"/>
<path d="M782.4,1071.4 C784.3,1073.9 788.9,1083.9 793.6,1086.2 C798.3,1088.5 806.1,1087.3 810.8,1085.3 C815.5,1083.3 820.1,1076 822,1074.2" stroke-width="2.96" fill="#fff"/>
<path d="M726.3,1015.4 L720.8,1021.4 L717.3,1029.4 L717.3,1043.4 L727.5,1051 L734.3,1063 L742.1,1066.4 L759.3,1071.6 L785,1072.4 L810.8,1069.9 L828,1057.8 L836.6,1048.4 L840,1035.5 L838.8,1025.4 L831.3,1015.4 Z" stroke-width="3.17" fill="#fff"/>
<path d="M828.7,1040 C828.3,1040.6 827.2,1042.1 826.4,1043.1 C825.5,1044.1 824.6,1045.1 823.6,1046.1 C822.6,1047 821.5,1047.9 820.4,1048.8 C819.3,1049.7 818.1,1050.5 816.9,1051.3 C815.6,1052.1 814.3,1052.9 813,1053.6 C811.6,1054.3 810.2,1055 808.8,1055.6 C807.4,1056.2 805.9,1056.8 804.4,1057.3 C802.9,1057.9 801.3,1058.4 799.7,1058.8 C798.2,1059.2 796.5,1059.6 794.9,1059.9 C793.3,1060.2 791.6,1060.5 789.9,1060.7 C788.3,1061 786.6,1061.1 784.9,1061.2 C783.2,1061.3 781.5,1061.4 779.8,1061.4 C778.1,1061.4 776.4,1061.3 774.7,1061.2 C773,1061.1 771.3,1061 769.7,1060.7 C768,1060.5 766.3,1060.2 764.7,1059.9 C763.1,1059.6 761.4,1059.2 759.9,1058.8 C758.3,1058.4 756.7,1057.9 755.2,1057.3 C753.7,1056.8 752.2,1056.2 750.8,1055.6 C749.4,1055 748,1054.3 746.6,1053.6 C745.3,1052.9 744,1052.1 742.7,1051.3 C741.5,1050.5 740.3,1049.7 739.2,1048.8 C738.1,1047.9 737,1047 736,1046.1 C735,1045.1 734.1,1044.1 733.2,1043.1 C732.4,1042.1 731.3,1040.6 730.9,1040" stroke-width="2.31" stroke-dasharray="16 5"/>
<path d="M726.3,979.4 L726.3,1019.4 A52.5,26.1 0 0 0 831.3,1019.4 L831.3,979.4 Z" stroke-width="2.8" fill="#fff"/>
<path d="M826.6,990.5 C826.3,990.9 825.6,992.1 824.9,992.9 C824.3,993.7 823.5,994.5 822.7,995.2 C821.9,996 821,996.7 820,997.4 C819,998.1 817.9,998.8 816.7,999.5 C815.6,1000.1 814.3,1000.8 813,1001.4 C811.7,1001.9 810.4,1002.5 808.9,1003 C807.5,1003.5 806,1004 804.5,1004.5 C802.9,1004.9 801.3,1005.3 799.7,1005.7 C798.1,1006 796.4,1006.4 794.7,1006.6 C793,1006.9 791.3,1007.1 789.5,1007.3 C787.8,1007.5 786,1007.6 784.2,1007.7 C782.4,1007.8 780.6,1007.9 778.8,1007.9 C777,1007.9 775.2,1007.8 773.4,1007.7 C771.6,1007.6 769.8,1007.5 768.1,1007.3 C766.3,1007.1 764.6,1006.9 762.9,1006.6 C761.2,1006.4 759.5,1006 757.9,1005.7 C756.3,1005.3 754.7,1004.9 753.1,1004.5 C751.6,1004 750.1,1003.5 748.7,1003 C747.2,1002.5 745.9,1001.9 744.6,1001.4 C743.3,1000.8 742,1000.1 740.9,999.5 C739.7,998.8 738.6,998.1 737.6,997.4 C736.6,996.7 735.7,996 734.9,995.2 C734.1,994.5 733.3,993.7 732.7,992.9 C732,992.1 731.3,990.9 731,990.5" stroke-width="2.31" stroke-dasharray="30 5"/>
<path d="M826.6,995.5 C826.3,995.9 825.6,997.1 824.9,997.9 C824.3,998.7 823.5,999.5 822.7,1000.2 C821.9,1001 821,1001.7 820,1002.4 C819,1003.1 817.9,1003.8 816.7,1004.5 C815.6,1005.1 814.3,1005.8 813,1006.4 C811.7,1006.9 810.4,1007.5 808.9,1008 C807.5,1008.5 806,1009 804.5,1009.5 C802.9,1009.9 801.3,1010.3 799.7,1010.7 C798.1,1011 796.4,1011.4 794.7,1011.6 C793,1011.9 791.3,1012.1 789.5,1012.3 C787.8,1012.5 786,1012.6 784.2,1012.7 C782.4,1012.8 780.6,1012.9 778.8,1012.9 C777,1012.9 775.2,1012.8 773.4,1012.7 C771.6,1012.6 769.8,1012.5 768.1,1012.3 C766.3,1012.1 764.6,1011.9 762.9,1011.6 C761.2,1011.4 759.5,1011 757.9,1010.7 C756.3,1010.3 754.7,1009.9 753.1,1009.5 C751.6,1009 750.1,1008.5 748.7,1008 C747.2,1007.5 745.9,1006.9 744.6,1006.4 C743.3,1005.8 742,1005.1 740.9,1004.5 C739.7,1003.8 738.6,1003.1 737.6,1002.4 C736.6,1001.7 735.7,1001 734.9,1000.2 C734.1,999.5 733.3,998.7 732.7,997.9 C732,997.1 731.3,995.9 731,995.5" stroke-width="2.96" stroke-dasharray="8 2"/>
<path d="M826.6,1001.5 C826.3,1001.9 825.6,1003.1 824.9,1003.9 C824.3,1004.7 823.5,1005.5 822.7,1006.2 C821.9,1007 821,1007.7 820,1008.4 C819,1009.1 817.9,1009.8 816.7,1010.5 C815.6,1011.1 814.3,1011.8 813,1012.4 C811.7,1012.9 810.4,1013.5 808.9,1014 C807.5,1014.5 806,1015 804.5,1015.5 C802.9,1015.9 801.3,1016.3 799.7,1016.7 C798.1,1017 796.4,1017.4 794.7,1017.6 C793,1017.9 791.3,1018.1 789.5,1018.3 C787.8,1018.5 786,1018.6 784.2,1018.7 C782.4,1018.8 780.6,1018.9 778.8,1018.9 C777,1018.9 775.2,1018.8 773.4,1018.7 C771.6,1018.6 769.8,1018.5 768.1,1018.3 C766.3,1018.1 764.6,1017.9 762.9,1017.6 C761.2,1017.4 759.5,1017 757.9,1016.7 C756.3,1016.3 754.7,1015.9 753.1,1015.5 C751.6,1015 750.1,1014.5 748.7,1014 C747.2,1013.5 745.9,1012.9 744.6,1012.4 C743.3,1011.8 742,1011.1 740.9,1010.5 C739.7,1009.8 738.6,1009.1 737.6,1008.4 C736.6,1007.7 735.7,1007 734.9,1006.2 C734.1,1005.5 733.3,1004.7 732.7,1003.9 C732,1003.1 731.3,1001.9 731,1001.5" stroke-width="2.53" stroke-dasharray="26 4"/>
<path d="M826.6,1007.5 C826.3,1007.9 825.6,1009.1 824.9,1009.9 C824.3,1010.7 823.5,1011.5 822.7,1012.2 C821.9,1013 821,1013.7 820,1014.4 C819,1015.1 817.9,1015.8 816.7,1016.5 C815.6,1017.1 814.3,1017.8 813,1018.4 C811.7,1018.9 810.4,1019.5 808.9,1020 C807.5,1020.5 806,1021 804.5,1021.5 C802.9,1021.9 801.3,1022.3 799.7,1022.7 C798.1,1023 796.4,1023.4 794.7,1023.6 C793,1023.9 791.3,1024.1 789.5,1024.3 C787.8,1024.5 786,1024.6 784.2,1024.7 C782.4,1024.8 780.6,1024.9 778.8,1024.9 C777,1024.9 775.2,1024.8 773.4,1024.7 C771.6,1024.6 769.8,1024.5 768.1,1024.3 C766.3,1024.1 764.6,1023.9 762.9,1023.6 C761.2,1023.4 759.5,1023 757.9,1022.7 C756.3,1022.3 754.7,1021.9 753.1,1021.5 C751.6,1021 750.1,1020.5 748.7,1020 C747.2,1019.5 745.9,1018.9 744.6,1018.4 C743.3,1017.8 742,1017.1 740.9,1016.5 C739.7,1015.8 738.6,1015.1 737.6,1014.4 C736.6,1013.7 735.7,1013 734.9,1012.2 C734.1,1011.5 733.3,1010.7 732.7,1009.9 C732,1009.1 731.3,1007.9 731,1007.5" stroke-width="2.09" stroke-dasharray="30 5"/>
<path d="M826.6,1011.5 C826.3,1011.9 825.6,1013.1 824.9,1013.9 C824.3,1014.7 823.5,1015.5 822.7,1016.2 C821.9,1017 821,1017.7 820,1018.4 C819,1019.1 817.9,1019.8 816.7,1020.5 C815.6,1021.1 814.3,1021.8 813,1022.4 C811.7,1022.9 810.4,1023.5 808.9,1024 C807.5,1024.5 806,1025 804.5,1025.5 C802.9,1025.9 801.3,1026.3 799.7,1026.7 C798.1,1027 796.4,1027.4 794.7,1027.6 C793,1027.9 791.3,1028.1 789.5,1028.3 C787.8,1028.5 786,1028.6 784.2,1028.7 C782.4,1028.8 780.6,1028.9 778.8,1028.9 C777,1028.9 775.2,1028.8 773.4,1028.7 C771.6,1028.6 769.8,1028.5 768.1,1028.3 C766.3,1028.1 764.6,1027.9 762.9,1027.6 C761.2,1027.4 759.5,1027 757.9,1026.7 C756.3,1026.3 754.7,1025.9 753.1,1025.5 C751.6,1025 750.1,1024.5 748.7,1024 C747.2,1023.5 745.9,1022.9 744.6,1022.4 C743.3,1021.8 742,1021.1 740.9,1020.5 C739.7,1019.8 738.6,1019.1 737.6,1018.4 C736.6,1017.7 735.7,1017 734.9,1016.2 C734.1,1015.5 733.3,1014.7 732.7,1013.9 C732,1013.1 731.3,1011.9 731,1011.5" stroke-width="2.09" stroke-dasharray="30 5"/>
<line x1="735.8" y1="1024.4" x2="735.8" y2="1041.4" stroke-width="1.88" stroke-dasharray="2 5"/>
<ellipse cx="737.8" cy="1051.4" rx="2" ry="2" stroke-width="1.77" fill="#000"/>
<ellipse cx="778.8" cy="979.4" rx="52.5" ry="32.6" stroke-width="3.61" fill="#fff"/>
<ellipse cx="778.8" cy="980.4" rx="48.5" ry="28.6" stroke-width="1.77" stroke-dasharray="30 4"/>
<path d="M815.2,979 C815,979.5 814.8,981 814.5,981.9 C814.2,982.9 813.8,983.8 813.3,984.8 C812.8,985.7 812.2,986.6 811.5,987.5 C810.9,988.4 810.1,989.3 809.3,990.1 C808.5,990.9 807.6,991.7 806.6,992.5 C805.6,993.2 804.6,993.9 803.5,994.6 C802.4,995.3 801.2,995.9 800,996.5 C798.7,997 797.4,997.6 796.1,998 C794.8,998.5 793.4,998.9 792,999.3 C790.6,999.6 789.2,999.9 787.7,1000.2 C786.3,1000.4 784.8,1000.6 783.3,1000.7 C781.8,1000.8 780.3,1000.9 778.8,1000.9 C777.3,1000.9 775.8,1000.8 774.3,1000.7 C772.8,1000.6 771.3,1000.4 769.9,1000.2 C768.4,999.9 767,999.6 765.6,999.3 C764.2,998.9 762.8,998.5 761.5,998 C760.2,997.6 758.9,997 757.6,996.5 C756.4,995.9 755.2,995.3 754.1,994.6 C753,993.9 752,993.2 751,992.5 C750,991.7 749.1,990.9 748.3,990.1 C747.5,989.3 746.7,988.4 746.1,987.5 C745.4,986.6 744.8,985.7 744.3,984.8 C743.8,983.8 743.4,982.9 743.1,981.9 C742.8,981 742.6,979.5 742.4,979" stroke-width="3.39"/>
<path d="M750.6,970.1 C750.8,969.7 751.4,968.8 751.8,968.2 C752.2,967.6 752.7,967 753.3,966.4 C753.8,965.8 754.4,965.3 755,964.7 C755.6,964.2 756.3,963.7 757,963.2 C757.7,962.7 758.4,962.2 759.2,961.8 C760,961.3 760.8,960.9 761.6,960.5 C762.4,960.1 763.3,959.8 764.2,959.4 C765.1,959.1 766,958.8 766.9,958.5 C767.9,958.3 768.8,958 769.8,957.8 C770.7,957.6 771.7,957.5 772.7,957.3 C773.7,957.2 774.7,957.1 775.8,957 C776.8,956.9 777.8,956.9 778.8,956.9 C779.8,956.9 780.8,956.9 781.8,957 C782.9,957.1 783.9,957.2 784.9,957.3 C785.9,957.5 786.9,957.6 787.8,957.8 C788.8,958 789.7,958.3 790.7,958.5 C791.6,958.8 792.5,959.1 793.4,959.4 C794.3,959.8 795.2,960.1 796,960.5 C796.8,960.9 797.6,961.3 798.4,961.8 C799.2,962.2 799.9,962.7 800.6,963.2 C801.3,963.7 802,964.2 802.6,964.7 C803.2,965.3 803.8,965.8 804.3,966.4 C804.9,967 805.4,967.6 805.8,968.2 C806.2,968.8 806.8,969.7 807,970.1" stroke-width="1.45" stroke-dasharray="3 4"/>
<path d="M763.9,963.7 C764.1,963.6 764.6,963.2 765,963 C765.4,962.8 765.8,962.6 766.2,962.4 C766.6,962.2 767,962.1 767.4,961.9 C767.8,961.7 768.3,961.5 768.7,961.4 C769.2,961.2 769.6,961.1 770.1,960.9 C770.5,960.8 771,960.6 771.5,960.5 C772,960.4 772.5,960.3 773,960.2 C773.5,960.1 774,960 774.5,959.9 C775,959.8 775.5,959.7 776,959.7 C776.6,959.6 777.1,959.6 777.6,959.5 C778.1,959.5 778.7,959.5 779.2,959.4 C779.7,959.4 780.3,959.4 780.8,959.4 C781.3,959.4 781.9,959.4 782.4,959.4 C782.9,959.5 783.5,959.5 784,959.5 C784.5,959.6 785,959.6 785.6,959.7 C786.1,959.7 786.6,959.8 787.1,959.9 C787.6,960 788.1,960.1 788.6,960.2 C789.1,960.3 789.6,960.4 790.1,960.5 C790.6,960.6 791.1,960.8 791.5,960.9 C792,961.1 792.4,961.2 792.9,961.4 C793.3,961.5 793.8,961.7 794.2,961.9 C794.6,962.1 795,962.2 795.4,962.4 C795.8,962.6 796.2,962.8 796.6,963 C797,963.2 797.5,963.6 797.7,963.7" stroke-width="1.88" stroke-dasharray="10 5"/>
<path d="M746.8,973.4 C748.1,974.6 751.8,978.6 754.8,980.4 C757.8,982.2 763.1,983.7 764.8,984.4" stroke-width="1.88" stroke-dasharray="2 3"/>
<path d="M790.8,985.4 C792.5,984.6 797.5,982.2 800.8,980.4 C804.1,978.6 809.1,975.4 810.8,974.4" stroke-width="2.96"/>
<line x1="798.8" y1="977.4" x2="804.8" y2="967.4" stroke-width="1.88"/>
<path d="M40.1,1034 L34.6,1040 L31.1,1048 L31.1,1070 L36.6,1074 L45.6,1079 L61.6,1088 L63.6,1096.5 L71.6,1098.5 L75.6,1093 L116.6,1093 L119.6,1098 L129.6,1093 L133.6,1087 L149.6,1075 L156.1,1068 L156.1,1048 L152.6,1040 L145.1,1034 Z" stroke-width="3.17" fill="#fff"/>
<path d="M142.5,1058.6 C142.1,1059.2 141,1060.7 140.2,1061.7 C139.3,1062.7 138.4,1063.7 137.4,1064.7 C136.4,1065.6 135.3,1066.5 134.2,1067.4 C133.1,1068.3 131.9,1069.1 130.7,1069.9 C129.4,1070.7 128.1,1071.5 126.8,1072.2 C125.4,1072.9 124,1073.6 122.6,1074.2 C121.2,1074.8 119.7,1075.4 118.2,1075.9 C116.7,1076.5 115.1,1077 113.5,1077.4 C112,1077.8 110.3,1078.2 108.7,1078.5 C107.1,1078.8 105.4,1079.1 103.7,1079.3 C102.1,1079.6 100.4,1079.7 98.7,1079.8 C97,1079.9 95.3,1080 93.6,1080 C91.9,1080 90.2,1079.9 88.5,1079.8 C86.8,1079.7 85.1,1079.6 83.5,1079.3 C81.8,1079.1 80.1,1078.8 78.5,1078.5 C76.9,1078.2 75.2,1077.8 73.7,1077.4 C72.1,1077 70.5,1076.5 69,1075.9 C67.5,1075.4 66,1074.8 64.6,1074.2 C63.2,1073.6 61.8,1072.9 60.4,1072.2 C59.1,1071.5 57.8,1070.7 56.5,1069.9 C55.3,1069.1 54.1,1068.3 53,1067.4 C51.9,1066.5 50.8,1065.6 49.8,1064.7 C48.8,1063.7 47.9,1062.7 47,1061.7 C46.2,1060.7 45.1,1059.2 44.7,1058.6" stroke-width="2.31" stroke-dasharray="16 5"/>
<path d="M143,1072 C142.5,1072.5 141.2,1073.9 140.3,1074.8 C139.3,1075.7 138.3,1076.6 137.3,1077.4 C136.2,1078.3 135.1,1079.1 133.9,1079.9 C132.7,1080.7 131.5,1081.4 130.2,1082.1 C129,1082.8 127.7,1083.5 126.3,1084.1 C124.9,1084.8 123.5,1085.4 122.1,1085.9 C120.7,1086.5 119.2,1087 117.7,1087.4 C116.2,1087.9 114.7,1088.3 113.1,1088.7 C111.5,1089.1 110,1089.4 108.4,1089.7 C106.8,1090 105.1,1090.2 103.5,1090.4 C101.9,1090.6 100.2,1090.8 98.6,1090.9 C96.9,1091 95.3,1091 93.6,1091 C91.9,1091 90.3,1091 88.6,1090.9 C87,1090.8 85.3,1090.6 83.7,1090.4 C82.1,1090.2 80.4,1090 78.8,1089.7 C77.2,1089.4 75.7,1089.1 74.1,1088.7 C72.5,1088.3 71,1087.9 69.5,1087.4 C68,1087 66.5,1086.5 65.1,1085.9 C63.7,1085.4 62.3,1084.8 60.9,1084.1 C59.5,1083.5 58.2,1082.8 57,1082.1 C55.7,1081.4 54.5,1080.7 53.3,1079.9 C52.1,1079.1 51,1078.3 49.9,1077.4 C48.9,1076.6 47.9,1075.7 46.9,1074.8 C46,1073.9 44.7,1072.5 44.2,1072" stroke-width="1.88" stroke-dasharray="20 6"/>
<path d="M40.1,998.0 L40.1,1038.0 A52.5,23.7 0 0 0 145.1,1038.0 L145.1,998.0 Z" stroke-width="2.8" fill="#fff"/>
<path d="M140.4,1008.5 C140.1,1008.9 139.4,1010 138.7,1010.7 C138.1,1011.4 137.3,1012.2 136.5,1012.8 C135.7,1013.5 134.8,1014.2 133.8,1014.8 C132.8,1015.5 131.7,1016.1 130.5,1016.7 C129.4,1017.3 128.1,1017.9 126.8,1018.4 C125.5,1018.9 124.2,1019.4 122.7,1019.9 C121.3,1020.4 119.8,1020.8 118.3,1021.2 C116.7,1021.6 115.1,1022 113.5,1022.3 C111.9,1022.6 110.2,1022.9 108.5,1023.2 C106.8,1023.4 105.1,1023.6 103.3,1023.8 C101.6,1024 99.8,1024.1 98,1024.2 C96.2,1024.3 94.4,1024.3 92.6,1024.3 C90.8,1024.3 89,1024.3 87.2,1024.2 C85.4,1024.1 83.6,1024 81.9,1023.8 C80.1,1023.6 78.4,1023.4 76.7,1023.2 C75,1022.9 73.3,1022.6 71.7,1022.3 C70.1,1022 68.5,1021.6 66.9,1021.2 C65.4,1020.8 63.9,1020.4 62.5,1019.9 C61,1019.4 59.7,1018.9 58.4,1018.4 C57.1,1017.9 55.8,1017.3 54.7,1016.7 C53.5,1016.1 52.4,1015.5 51.4,1014.8 C50.4,1014.2 49.5,1013.5 48.7,1012.8 C47.9,1012.2 47.1,1011.4 46.5,1010.7 C45.8,1010 45.1,1008.9 44.8,1008.5" stroke-width="2.31" stroke-dasharray="30 5"/>
<path d="M140.4,1013.5 C140.1,1013.9 139.4,1015 138.7,1015.7 C138.1,1016.4 137.3,1017.2 136.5,1017.8 C135.7,1018.5 134.8,1019.2 133.8,1019.8 C132.8,1020.5 131.7,1021.1 130.5,1021.7 C129.4,1022.3 128.1,1022.9 126.8,1023.4 C125.5,1023.9 124.2,1024.4 122.7,1024.9 C121.3,1025.4 119.8,1025.8 118.3,1026.2 C116.7,1026.6 115.1,1027 113.5,1027.3 C111.9,1027.6 110.2,1027.9 108.5,1028.2 C106.8,1028.4 105.1,1028.6 103.3,1028.8 C101.6,1029 99.8,1029.1 98,1029.2 C96.2,1029.3 94.4,1029.3 92.6,1029.3 C90.8,1029.3 89,1029.3 87.2,1029.2 C85.4,1029.1 83.6,1029 81.9,1028.8 C80.1,1028.6 78.4,1028.4 76.7,1028.2 C75,1027.9 73.3,1027.6 71.7,1027.3 C70.1,1027 68.5,1026.6 66.9,1026.2 C65.4,1025.8 63.9,1025.4 62.5,1024.9 C61,1024.4 59.7,1023.9 58.4,1023.4 C57.1,1022.9 55.8,1022.3 54.7,1021.7 C53.5,1021.1 52.4,1020.5 51.4,1019.8 C50.4,1019.2 49.5,1018.5 48.7,1017.8 C47.9,1017.2 47.1,1016.4 46.5,1015.7 C45.8,1015 45.1,1013.9 44.8,1013.5" stroke-width="2.96" stroke-dasharray="8 2"/>
<path d="M140.4,1019.5 C140.1,1019.9 139.4,1021 138.7,1021.7 C138.1,1022.4 137.3,1023.2 136.5,1023.8 C135.7,1024.5 134.8,1025.2 133.8,1025.8 C132.8,1026.5 131.7,1027.1 130.5,1027.7 C129.4,1028.3 128.1,1028.9 126.8,1029.4 C125.5,1029.9 124.2,1030.4 122.7,1030.9 C121.3,1031.4 119.8,1031.8 118.3,1032.2 C116.7,1032.6 115.1,1033 113.5,1033.3 C111.9,1033.6 110.2,1033.9 108.5,1034.2 C106.8,1034.4 105.1,1034.6 103.3,1034.8 C101.6,1035 99.8,1035.1 98,1035.2 C96.2,1035.3 94.4,1035.3 92.6,1035.3 C90.8,1035.3 89,1035.3 87.2,1035.2 C85.4,1035.1 83.6,1035 81.9,1034.8 C80.1,1034.6 78.4,1034.4 76.7,1034.2 C75,1033.9 73.3,1033.6 71.7,1033.3 C70.1,1033 68.5,1032.6 66.9,1032.2 C65.4,1031.8 63.9,1031.4 62.5,1030.9 C61,1030.4 59.7,1029.9 58.4,1029.4 C57.1,1028.9 55.8,1028.3 54.7,1027.7 C53.5,1027.1 52.4,1026.5 51.4,1025.8 C50.4,1025.2 49.5,1024.5 48.7,1023.8 C47.9,1023.2 47.1,1022.4 46.5,1021.7 C45.8,1021 45.1,1019.9 44.8,1019.5" stroke-width="2.53" stroke-dasharray="26 4"/>
<path d="M140.4,1025.5 C140.1,1025.9 139.4,1027 138.7,1027.7 C138.1,1028.4 137.3,1029.2 136.5,1029.8 C135.7,1030.5 134.8,1031.2 133.8,1031.8 C132.8,1032.5 131.7,1033.1 130.5,1033.7 C129.4,1034.3 128.1,1034.9 126.8,1035.4 C125.5,1035.9 124.2,1036.4 122.7,1036.9 C121.3,1037.4 119.8,1037.8 118.3,1038.2 C116.7,1038.6 115.1,1039 113.5,1039.3 C111.9,1039.6 110.2,1039.9 108.5,1040.2 C106.8,1040.4 105.1,1040.6 103.3,1040.8 C101.6,1041 99.8,1041.1 98,1041.2 C96.2,1041.3 94.4,1041.3 92.6,1041.3 C90.8,1041.3 89,1041.3 87.2,1041.2 C85.4,1041.1 83.6,1041 81.9,1040.8 C80.1,1040.6 78.4,1040.4 76.7,1040.2 C75,1039.9 73.3,1039.6 71.7,1039.3 C70.1,1039 68.5,1038.6 66.9,1038.2 C65.4,1037.8 63.9,1037.4 62.5,1036.9 C61,1036.4 59.7,1035.9 58.4,1035.4 C57.1,1034.9 55.8,1034.3 54.7,1033.7 C53.5,1033.1 52.4,1032.5 51.4,1031.8 C50.4,1031.2 49.5,1030.5 48.7,1029.8 C47.9,1029.2 47.1,1028.4 46.5,1027.7 C45.8,1027 45.1,1025.9 44.8,1025.5" stroke-width="2.09" stroke-dasharray="30 5"/>
<path d="M140.4,1029.5 C140.1,1029.9 139.4,1031 138.7,1031.7 C138.1,1032.4 137.3,1033.2 136.5,1033.8 C135.7,1034.5 134.8,1035.2 133.8,1035.8 C132.8,1036.5 131.7,1037.1 130.5,1037.7 C129.4,1038.3 128.1,1038.9 126.8,1039.4 C125.5,1039.9 124.2,1040.4 122.7,1040.9 C121.3,1041.4 119.8,1041.8 118.3,1042.2 C116.7,1042.6 115.1,1043 113.5,1043.3 C111.9,1043.6 110.2,1043.9 108.5,1044.2 C106.8,1044.4 105.1,1044.6 103.3,1044.8 C101.6,1045 99.8,1045.1 98,1045.2 C96.2,1045.3 94.4,1045.3 92.6,1045.3 C90.8,1045.3 89,1045.3 87.2,1045.2 C85.4,1045.1 83.6,1045 81.9,1044.8 C80.1,1044.6 78.4,1044.4 76.7,1044.2 C75,1043.9 73.3,1043.6 71.7,1043.3 C70.1,1043 68.5,1042.6 66.9,1042.2 C65.4,1041.8 63.9,1041.4 62.5,1040.9 C61,1040.4 59.7,1039.9 58.4,1039.4 C57.1,1038.9 55.8,1038.3 54.7,1037.7 C53.5,1037.1 52.4,1036.5 51.4,1035.8 C50.4,1035.2 49.5,1034.5 48.7,1033.8 C47.9,1033.2 47.1,1032.4 46.5,1031.7 C45.8,1031 45.1,1029.9 44.8,1029.5" stroke-width="2.09" stroke-dasharray="30 5"/>
<line x1="49.6" y1="1043" x2="49.6" y2="1060" stroke-width="1.88" stroke-dasharray="2 5"/>
<ellipse cx="51.6" cy="1070" rx="2" ry="2" stroke-width="1.77" fill="#000"/>
<ellipse cx="92.6" cy="998" rx="52.5" ry="29.6" stroke-width="3.61" fill="#fff"/>
<ellipse cx="92.6" cy="999" rx="48.5" ry="25.6" stroke-width="1.77" stroke-dasharray="30 4"/>
<path d="M129,997.6 C128.8,998.1 128.6,999.6 128.3,1000.5 C128,1001.5 127.6,1002.4 127.1,1003.4 C126.6,1004.3 126,1005.2 125.3,1006.1 C124.7,1007 123.9,1007.9 123.1,1008.7 C122.3,1009.5 121.4,1010.3 120.4,1011.1 C119.4,1011.8 118.4,1012.5 117.3,1013.2 C116.2,1013.9 115,1014.5 113.8,1015.1 C112.5,1015.6 111.2,1016.2 109.9,1016.6 C108.6,1017.1 107.2,1017.5 105.8,1017.9 C104.4,1018.2 103,1018.5 101.5,1018.8 C100.1,1019 98.6,1019.2 97.1,1019.3 C95.6,1019.4 94.1,1019.5 92.6,1019.5 C91.1,1019.5 89.6,1019.4 88.1,1019.3 C86.6,1019.2 85.1,1019 83.7,1018.8 C82.2,1018.5 80.8,1018.2 79.4,1017.9 C78,1017.5 76.6,1017.1 75.3,1016.6 C74,1016.2 72.7,1015.6 71.4,1015.1 C70.2,1014.5 69,1013.9 67.9,1013.2 C66.8,1012.5 65.8,1011.8 64.8,1011.1 C63.8,1010.3 62.9,1009.5 62.1,1008.7 C61.3,1007.9 60.5,1007 59.9,1006.1 C59.2,1005.2 58.6,1004.3 58.1,1003.4 C57.6,1002.4 57.2,1001.5 56.9,1000.5 C56.6,999.6 56.4,998.1 56.2,997.6" stroke-width="3.39"/>
<path d="M64.4,988.7 C64.6,988.3 65.2,987.4 65.6,986.8 C66,986.2 66.5,985.6 67.1,985 C67.6,984.4 68.2,983.9 68.8,983.3 C69.4,982.8 70.1,982.3 70.8,981.8 C71.5,981.3 72.2,980.8 73,980.4 C73.8,979.9 74.6,979.5 75.4,979.1 C76.2,978.7 77.1,978.4 78,978 C78.9,977.7 79.8,977.4 80.7,977.1 C81.7,976.9 82.6,976.6 83.6,976.4 C84.5,976.2 85.5,976.1 86.5,975.9 C87.5,975.8 88.5,975.7 89.6,975.6 C90.6,975.5 91.6,975.5 92.6,975.5 C93.6,975.5 94.6,975.5 95.6,975.6 C96.7,975.7 97.7,975.8 98.7,975.9 C99.7,976.1 100.7,976.2 101.6,976.4 C102.6,976.6 103.5,976.9 104.5,977.1 C105.4,977.4 106.3,977.7 107.2,978 C108.1,978.4 109,978.7 109.8,979.1 C110.6,979.5 111.4,979.9 112.2,980.4 C113,980.8 113.7,981.3 114.4,981.8 C115.1,982.3 115.8,982.8 116.4,983.3 C117,983.9 117.6,984.4 118.1,985 C118.7,985.6 119.2,986.2 119.6,986.8 C120,987.4 120.6,988.3 120.8,988.7" stroke-width="1.45" stroke-dasharray="3 4"/>
<path d="M77.7,982.3 C77.9,982.2 78.4,981.8 78.8,981.6 C79.2,981.4 79.6,981.2 80,981 C80.4,980.8 80.8,980.7 81.2,980.5 C81.6,980.3 82.1,980.1 82.5,980 C83,979.8 83.4,979.7 83.9,979.5 C84.3,979.4 84.8,979.2 85.3,979.1 C85.8,979 86.3,978.9 86.8,978.8 C87.3,978.7 87.8,978.6 88.3,978.5 C88.8,978.4 89.3,978.3 89.8,978.3 C90.4,978.2 90.9,978.2 91.4,978.1 C91.9,978.1 92.5,978.1 93,978 C93.5,978 94.1,978 94.6,978 C95.1,978 95.7,978 96.2,978 C96.7,978.1 97.3,978.1 97.8,978.1 C98.3,978.2 98.8,978.2 99.4,978.3 C99.9,978.3 100.4,978.4 100.9,978.5 C101.4,978.6 101.9,978.7 102.4,978.8 C102.9,978.9 103.4,979 103.9,979.1 C104.4,979.2 104.9,979.4 105.3,979.5 C105.8,979.7 106.2,979.8 106.7,980 C107.1,980.1 107.6,980.3 108,980.5 C108.4,980.7 108.8,980.8 109.2,981 C109.6,981.2 110,981.4 110.4,981.6 C110.8,981.8 111.3,982.2 111.5,982.3" stroke-width="1.88" stroke-dasharray="10 5"/>
<path d="M60.6,992 C61.9,993.2 65.6,997.2 68.6,999 C71.6,1000.8 76.9,1002.3 78.6,1003" stroke-width="1.88" stroke-dasharray="2 3"/>
<path d="M104.6,1004 C106.3,1003.2 111.3,1000.8 114.6,999 C117.9,997.2 122.9,994 124.6,993" stroke-width="2.96"/>
<line x1="112.6" y1="996" x2="118.6" y2="986" stroke-width="1.88"/>
<path d="M367.1,1222 L361.6,1228 L358.1,1236 L358.1,1258 L363.6,1262 L372.6,1267 L388.6,1276 L390.6,1284.5 L398.6,1286.5 L402.6,1281 L443.6,1281 L446.6,1286 L456.6,1281 L460.6,1275 L476.6,1263 L483.1,1256 L483.1,1236 L479.6,1228 L472.1,1222 Z" stroke-width="3.17" fill="#fff"/>
<path d="M469.5,1246.6 C469.1,1247.2 468,1248.7 467.2,1249.7 C466.3,1250.7 465.4,1251.7 464.4,1252.7 C463.4,1253.6 462.3,1254.5 461.2,1255.4 C460.1,1256.3 458.9,1257.1 457.7,1257.9 C456.4,1258.7 455.1,1259.5 453.8,1260.2 C452.4,1260.9 451,1261.6 449.6,1262.2 C448.2,1262.8 446.7,1263.4 445.2,1263.9 C443.7,1264.5 442.1,1265 440.5,1265.4 C439,1265.8 437.3,1266.2 435.7,1266.5 C434.1,1266.8 432.4,1267.1 430.7,1267.3 C429.1,1267.6 427.4,1267.7 425.7,1267.8 C424,1267.9 422.3,1268 420.6,1268 C418.9,1268 417.2,1267.9 415.5,1267.8 C413.8,1267.7 412.1,1267.6 410.5,1267.3 C408.8,1267.1 407.1,1266.8 405.5,1266.5 C403.9,1266.2 402.2,1265.8 400.7,1265.4 C399.1,1265 397.5,1264.5 396,1263.9 C394.5,1263.4 393,1262.8 391.6,1262.2 C390.2,1261.6 388.8,1260.9 387.4,1260.2 C386.1,1259.5 384.8,1258.7 383.5,1257.9 C382.3,1257.1 381.1,1256.3 380,1255.4 C378.9,1254.5 377.8,1253.6 376.8,1252.7 C375.8,1251.7 374.9,1250.7 374,1249.7 C373.2,1248.7 372.1,1247.2 371.7,1246.6" stroke-width="2.31" stroke-dasharray="16 5"/>
<path d="M470,1260 C469.5,1260.5 468.2,1261.9 467.3,1262.8 C466.3,1263.7 465.3,1264.6 464.3,1265.4 C463.2,1266.3 462.1,1267.1 460.9,1267.9 C459.7,1268.7 458.5,1269.4 457.2,1270.1 C456,1270.8 454.7,1271.5 453.3,1272.1 C451.9,1272.8 450.5,1273.4 449.1,1273.9 C447.7,1274.5 446.2,1275 444.7,1275.4 C443.2,1275.9 441.7,1276.3 440.1,1276.7 C438.5,1277.1 437,1277.4 435.4,1277.7 C433.8,1278 432.1,1278.2 430.5,1278.4 C428.9,1278.6 427.2,1278.8 425.6,1278.9 C423.9,1279 422.3,1279 420.6,1279 C418.9,1279 417.3,1279 415.6,1278.9 C414,1278.8 412.3,1278.6 410.7,1278.4 C409.1,1278.2 407.4,1278 405.8,1277.7 C404.2,1277.4 402.7,1277.1 401.1,1276.7 C399.5,1276.3 398,1275.9 396.5,1275.4 C395,1275 393.5,1274.5 392.1,1273.9 C390.7,1273.4 389.3,1272.8 387.9,1272.1 C386.5,1271.5 385.2,1270.8 384,1270.1 C382.7,1269.4 381.5,1268.7 380.3,1267.9 C379.1,1267.1 378,1266.3 376.9,1265.4 C375.9,1264.6 374.9,1263.7 373.9,1262.8 C373,1261.9 371.7,1260.5 371.2,1260" stroke-width="1.88" stroke-dasharray="20 6"/>
<path d="M367.1,1186.0 L367.1,1226.0 A52.5,26.0 0 0 0 472.1,1226.0 L472.1,1186.0 Z" stroke-width="2.8" fill="#fff"/>
<path d="M467.4,1197.1 C467.1,1197.5 466.4,1198.7 465.7,1199.5 C465.1,1200.3 464.3,1201.1 463.5,1201.8 C462.7,1202.6 461.8,1203.3 460.8,1204 C459.8,1204.7 458.7,1205.4 457.5,1206 C456.4,1206.7 455.1,1207.3 453.8,1207.9 C452.5,1208.5 451.2,1209 449.7,1209.6 C448.3,1210.1 446.8,1210.6 445.3,1211 C443.7,1211.4 442.1,1211.8 440.5,1212.2 C438.9,1212.6 437.2,1212.9 435.5,1213.2 C433.8,1213.4 432.1,1213.7 430.3,1213.8 C428.6,1214 426.8,1214.2 425,1214.3 C423.2,1214.4 421.4,1214.4 419.6,1214.4 C417.8,1214.4 416,1214.4 414.2,1214.3 C412.4,1214.2 410.6,1214 408.9,1213.8 C407.1,1213.7 405.4,1213.4 403.7,1213.2 C402,1212.9 400.3,1212.6 398.7,1212.2 C397.1,1211.8 395.5,1211.4 393.9,1211 C392.4,1210.6 390.9,1210.1 389.5,1209.6 C388,1209 386.7,1208.5 385.4,1207.9 C384.1,1207.3 382.8,1206.7 381.7,1206 C380.5,1205.4 379.4,1204.7 378.4,1204 C377.4,1203.3 376.5,1202.6 375.7,1201.8 C374.9,1201.1 374.1,1200.3 373.5,1199.5 C372.8,1198.7 372.1,1197.5 371.8,1197.1" stroke-width="2.31" stroke-dasharray="30 5"/>
<path d="M467.4,1202.1 C467.1,1202.5 466.4,1203.7 465.7,1204.5 C465.1,1205.3 464.3,1206.1 463.5,1206.8 C462.7,1207.6 461.8,1208.3 460.8,1209 C459.8,1209.7 458.7,1210.4 457.5,1211 C456.4,1211.7 455.1,1212.3 453.8,1212.9 C452.5,1213.5 451.2,1214 449.7,1214.6 C448.3,1215.1 446.8,1215.6 445.3,1216 C443.7,1216.4 442.1,1216.8 440.5,1217.2 C438.9,1217.6 437.2,1217.9 435.5,1218.2 C433.8,1218.4 432.1,1218.7 430.3,1218.8 C428.6,1219 426.8,1219.2 425,1219.3 C423.2,1219.4 421.4,1219.4 419.6,1219.4 C417.8,1219.4 416,1219.4 414.2,1219.3 C412.4,1219.2 410.6,1219 408.9,1218.8 C407.1,1218.7 405.4,1218.4 403.7,1218.2 C402,1217.9 400.3,1217.6 398.7,1217.2 C397.1,1216.8 395.5,1216.4 393.9,1216 C392.4,1215.6 390.9,1215.1 389.5,1214.6 C388,1214 386.7,1213.5 385.4,1212.9 C384.1,1212.3 382.8,1211.7 381.7,1211 C380.5,1210.4 379.4,1209.7 378.4,1209 C377.4,1208.3 376.5,1207.6 375.7,1206.8 C374.9,1206.1 374.1,1205.3 373.5,1204.5 C372.8,1203.7 372.1,1202.5 371.8,1202.1" stroke-width="2.96" stroke-dasharray="8 2"/>
<path d="M467.4,1208.1 C467.1,1208.5 466.4,1209.7 465.7,1210.5 C465.1,1211.3 464.3,1212.1 463.5,1212.8 C462.7,1213.6 461.8,1214.3 460.8,1215 C459.8,1215.7 458.7,1216.4 457.5,1217 C456.4,1217.7 455.1,1218.3 453.8,1218.9 C452.5,1219.5 451.2,1220 449.7,1220.6 C448.3,1221.1 446.8,1221.6 445.3,1222 C443.7,1222.4 442.1,1222.8 440.5,1223.2 C438.9,1223.6 437.2,1223.9 435.5,1224.2 C433.8,1224.4 432.1,1224.7 430.3,1224.8 C428.6,1225 426.8,1225.2 425,1225.3 C423.2,1225.4 421.4,1225.4 419.6,1225.4 C417.8,1225.4 416,1225.4 414.2,1225.3 C412.4,1225.2 410.6,1225 408.9,1224.8 C407.1,1224.7 405.4,1224.4 403.7,1224.2 C402,1223.9 400.3,1223.6 398.7,1223.2 C397.1,1222.8 395.5,1222.4 393.9,1222 C392.4,1221.6 390.9,1221.1 389.5,1220.6 C388,1220 386.7,1219.5 385.4,1218.9 C384.1,1218.3 382.8,1217.7 381.7,1217 C380.5,1216.4 379.4,1215.7 378.4,1215 C377.4,1214.3 376.5,1213.6 375.7,1212.8 C374.9,1212.1 374.1,1211.3 373.5,1210.5 C372.8,1209.7 372.1,1208.5 371.8,1208.1" stroke-width="2.53" stroke-dasharray="26 4"/>
<path d="M467.4,1214.1 C467.1,1214.5 466.4,1215.7 465.7,1216.5 C465.1,1217.3 464.3,1218.1 463.5,1218.8 C462.7,1219.6 461.8,1220.3 460.8,1221 C459.8,1221.7 458.7,1222.4 457.5,1223 C456.4,1223.7 455.1,1224.3 453.8,1224.9 C452.5,1225.5 451.2,1226 449.7,1226.6 C448.3,1227.1 446.8,1227.6 445.3,1228 C443.7,1228.4 442.1,1228.8 440.5,1229.2 C438.9,1229.6 437.2,1229.9 435.5,1230.2 C433.8,1230.4 432.1,1230.7 430.3,1230.8 C428.6,1231 426.8,1231.2 425,1231.3 C423.2,1231.4 421.4,1231.4 419.6,1231.4 C417.8,1231.4 416,1231.4 414.2,1231.3 C412.4,1231.2 410.6,1231 408.9,1230.8 C407.1,1230.7 405.4,1230.4 403.7,1230.2 C402,1229.9 400.3,1229.6 398.7,1229.2 C397.1,1228.8 395.5,1228.4 393.9,1228 C392.4,1227.6 390.9,1227.1 389.5,1226.6 C388,1226 386.7,1225.5 385.4,1224.9 C384.1,1224.3 382.8,1223.7 381.7,1223 C380.5,1222.4 379.4,1221.7 378.4,1221 C377.4,1220.3 376.5,1219.6 375.7,1218.8 C374.9,1218.1 374.1,1217.3 373.5,1216.5 C372.8,1215.7 372.1,1214.5 371.8,1214.1" stroke-width="2.09" stroke-dasharray="30 5"/>
<path d="M467.4,1218.1 C467.1,1218.5 466.4,1219.7 465.7,1220.5 C465.1,1221.3 464.3,1222.1 463.5,1222.8 C462.7,1223.6 461.8,1224.3 460.8,1225 C459.8,1225.7 458.7,1226.4 457.5,1227 C456.4,1227.7 455.1,1228.3 453.8,1228.9 C452.5,1229.5 451.2,1230 449.7,1230.6 C448.3,1231.1 446.8,1231.6 445.3,1232 C443.7,1232.4 442.1,1232.8 440.5,1233.2 C438.9,1233.6 437.2,1233.9 435.5,1234.2 C433.8,1234.4 432.1,1234.7 430.3,1234.8 C428.6,1235 426.8,1235.2 425,1235.3 C423.2,1235.4 421.4,1235.4 419.6,1235.4 C417.8,1235.4 416,1235.4 414.2,1235.3 C412.4,1235.2 410.6,1235 408.9,1234.8 C407.1,1234.7 405.4,1234.4 403.7,1234.2 C402,1233.9 400.3,1233.6 398.7,1233.2 C397.1,1232.8 395.5,1232.4 393.9,1232 C392.4,1231.6 390.9,1231.1 389.5,1230.6 C388,1230 386.7,1229.5 385.4,1228.9 C384.1,1228.3 382.8,1227.7 381.7,1227 C380.5,1226.4 379.4,1225.7 378.4,1225 C377.4,1224.3 376.5,1223.6 375.7,1222.8 C374.9,1222.1 374.1,1221.3 373.5,1220.5 C372.8,1219.7 372.1,1218.5 371.8,1218.1" stroke-width="2.09" stroke-dasharray="30 5"/>
<line x1="376.6" y1="1231" x2="376.6" y2="1248" stroke-width="1.88" stroke-dasharray="2 5"/>
<ellipse cx="378.6" cy="1258" rx="2" ry="2" stroke-width="1.77" fill="#000"/>
<ellipse cx="419.6" cy="1186" rx="52.5" ry="32.5" stroke-width="3.61" fill="#fff"/>
<ellipse cx="419.6" cy="1187" rx="48.5" ry="28.5" stroke-width="1.77" stroke-dasharray="30 4"/>
<path d="M456,1185.6 C455.8,1186.1 455.6,1187.6 455.3,1188.5 C455,1189.5 454.6,1190.4 454.1,1191.4 C453.6,1192.3 453,1193.2 452.3,1194.1 C451.7,1195 450.9,1195.9 450.1,1196.7 C449.3,1197.5 448.4,1198.3 447.4,1199.1 C446.4,1199.8 445.4,1200.5 444.3,1201.2 C443.2,1201.9 442,1202.5 440.8,1203.1 C439.5,1203.6 438.2,1204.2 436.9,1204.6 C435.6,1205.1 434.2,1205.5 432.8,1205.9 C431.4,1206.2 430,1206.5 428.5,1206.8 C427.1,1207 425.6,1207.2 424.1,1207.3 C422.6,1207.4 421.1,1207.5 419.6,1207.5 C418.1,1207.5 416.6,1207.4 415.1,1207.3 C413.6,1207.2 412.1,1207 410.7,1206.8 C409.2,1206.5 407.8,1206.2 406.4,1205.9 C405,1205.5 403.6,1205.1 402.3,1204.6 C401,1204.2 399.7,1203.6 398.4,1203.1 C397.2,1202.5 396,1201.9 394.9,1201.2 C393.8,1200.5 392.8,1199.8 391.8,1199.1 C390.8,1198.3 389.9,1197.5 389.1,1196.7 C388.3,1195.9 387.5,1195 386.9,1194.1 C386.2,1193.2 385.6,1192.3 385.1,1191.4 C384.6,1190.4 384.2,1189.5 383.9,1188.5 C383.6,1187.6 383.4,1186.1 383.2,1185.6" stroke-width="3.39"/>
<path d="M391.4,1176.7 C391.6,1176.3 392.2,1175.4 392.6,1174.8 C393,1174.2 393.5,1173.6 394.1,1173 C394.6,1172.4 395.2,1171.9 395.8,1171.3 C396.4,1170.8 397.1,1170.3 397.8,1169.8 C398.5,1169.3 399.2,1168.8 400,1168.4 C400.8,1167.9 401.6,1167.5 402.4,1167.1 C403.2,1166.7 404.1,1166.4 405,1166 C405.9,1165.7 406.8,1165.4 407.7,1165.1 C408.7,1164.9 409.6,1164.6 410.6,1164.4 C411.5,1164.2 412.5,1164.1 413.5,1163.9 C414.5,1163.8 415.5,1163.7 416.6,1163.6 C417.6,1163.5 418.6,1163.5 419.6,1163.5 C420.6,1163.5 421.6,1163.5 422.6,1163.6 C423.7,1163.7 424.7,1163.8 425.7,1163.9 C426.7,1164.1 427.7,1164.2 428.6,1164.4 C429.6,1164.6 430.5,1164.9 431.5,1165.1 C432.4,1165.4 433.3,1165.7 434.2,1166 C435.1,1166.4 436,1166.7 436.8,1167.1 C437.6,1167.5 438.4,1167.9 439.2,1168.4 C440,1168.8 440.7,1169.3 441.4,1169.8 C442.1,1170.3 442.8,1170.8 443.4,1171.3 C444,1171.9 444.6,1172.4 445.1,1173 C445.7,1173.6 446.2,1174.2 446.6,1174.8 C447,1175.4 447.6,1176.3 447.8,1176.7" stroke-width="1.45" stroke-dasharray="3 4"/>
<path d="M404.7,1170.3 C404.9,1170.2 405.4,1169.8 405.8,1169.6 C406.2,1169.4 406.6,1169.2 407,1169 C407.4,1168.8 407.8,1168.7 408.2,1168.5 C408.6,1168.3 409.1,1168.1 409.5,1168 C410,1167.8 410.4,1167.7 410.9,1167.5 C411.3,1167.4 411.8,1167.2 412.3,1167.1 C412.8,1167 413.3,1166.9 413.8,1166.8 C414.3,1166.7 414.8,1166.6 415.3,1166.5 C415.8,1166.4 416.3,1166.3 416.8,1166.3 C417.4,1166.2 417.9,1166.2 418.4,1166.1 C418.9,1166.1 419.5,1166.1 420,1166 C420.5,1166 421.1,1166 421.6,1166 C422.1,1166 422.7,1166 423.2,1166 C423.7,1166.1 424.3,1166.1 424.8,1166.1 C425.3,1166.2 425.8,1166.2 426.4,1166.3 C426.9,1166.3 427.4,1166.4 427.9,1166.5 C428.4,1166.6 428.9,1166.7 429.4,1166.8 C429.9,1166.9 430.4,1167 430.9,1167.1 C431.4,1167.2 431.9,1167.4 432.3,1167.5 C432.8,1167.7 433.2,1167.8 433.7,1168 C434.1,1168.1 434.6,1168.3 435,1168.5 C435.4,1168.7 435.8,1168.8 436.2,1169 C436.6,1169.2 437,1169.4 437.4,1169.6 C437.8,1169.8 438.3,1170.2 438.5,1170.3" stroke-width="1.88" stroke-dasharray="10 5"/>
<path d="M387.6,1180 C388.9,1181.2 392.6,1185.2 395.6,1187 C398.6,1188.8 403.9,1190.3 405.6,1191" stroke-width="1.88" stroke-dasharray="2 3"/>
<path d="M431.6,1192 C433.3,1191.2 438.3,1188.8 441.6,1187 C444.9,1185.2 449.9,1182 451.6,1181" stroke-width="2.96"/>
<line x1="439.6" y1="1184" x2="445.6" y2="1174" stroke-width="1.88"/>
<path d="M626.3,1190 L626.3,1232 M626.3,1237 L626.3,1245 M626.4,1251.6 L626.4,1297.4" stroke-width="2.74"/>
<path d="M621.2,1164.0 L621.2,1182.0 L625.7,1188.0 L630.2,1182.0 L630.2,1164.0 Z" stroke-width="2.4" fill="#fff"/>
<line x1="622.2" y1="1169" x2="629.2" y2="1167" stroke-width="1.45"/>
<line x1="622.2" y1="1174" x2="629.2" y2="1172" stroke-width="1.45"/>
<line x1="622.2" y1="1179" x2="629.2" y2="1177" stroke-width="1.45"/>
<ellipse cx="625.7" cy="1162" rx="13" ry="6.5" stroke-width="2.96" fill="#fff"/>
<path d="M619.7,1161 L619.7,1157 L622.7,1154 L628.7,1154 L631.7,1157 L631.7,1161 L628.7,1163.5 L622.7,1163.5 Z" stroke-width="2.31" fill="#fff"/>
<line x1="619.7" y1="1158.5" x2="631.7" y2="1158.5" stroke-width="1.45"/>
<path d="M751.9,1304 L751.9,1330 M752,1335 L752,1345" stroke-width="2.74"/>
<path d="M746.1,1275.0 L746.1,1294.0 L750.6,1300.0 L755.1,1294.0 L755.1,1275.0 Z" stroke-width="2.4" fill="#fff"/>
<line x1="747.1" y1="1280" x2="754.1" y2="1278" stroke-width="1.45"/>
<line x1="747.1" y1="1285" x2="754.1" y2="1283" stroke-width="1.45"/>
<line x1="747.1" y1="1290" x2="754.1" y2="1288" stroke-width="1.45"/>
<ellipse cx="750.6" cy="1273" rx="13" ry="6.5" stroke-width="2.96" fill="#fff"/>
<path d="M744.6,1272 L744.6,1268 L747.6,1265 L753.6,1265 L756.6,1268 L756.6,1272 L753.6,1274.5 L747.6,1274.5 Z" stroke-width="2.31" fill="#fff"/>
<line x1="744.6" y1="1269.5" x2="756.6" y2="1269.5" stroke-width="1.45"/>
<path d="M414.2,1487.6 L414.2,1508 L395.9,1516.2 L379.6,1526.4 L381.6,1536.6 L393.8,1544.8 L499.9,1606 L524.4,1599.9 L528.5,1589.6 L504,1557 L504,1544.8 L522.4,1542.8 L530,1538 L440,1480 Z" stroke-width="3.17" fill="#fff"/>
<path d="M769.2,1402 L797.8,1422.3 L822.3,1422.3 L822.3,1430.5 L810,1436.6 L793.7,1426.4 L775,1412 Z" stroke-width="2.96" fill="#fff"/>
<line x1="803" y1="1425" x2="815" y2="1419" stroke-width="1.66"/>
<line x1="806" y1="1429" x2="818" y2="1423" stroke-width="1.66"/>
<path d="M418.3,1479.5 L422.4,1473.4 L434.6,1467.2 L679.5,1326.5 L691.7,1322.4 L708,1324.4 L777.4,1365.2 L785.6,1377.5 L785.6,1385.6 L769.2,1402 L528.5,1540.7 L520,1541 L505,1533 L430.6,1491.7 L418.3,1486 Z" stroke-width="3.17" fill="#fff"/>
<line x1="530" y1="1536" x2="778" y2="1393" stroke-width="1.88" stroke-dasharray="26 6"/>
<line x1="430.6" y1="1491.7" x2="430.6" y2="1548" stroke-width="2.53"/>
<line x1="440.8" y1="1483.5" x2="440.8" y2="1553" stroke-width="1.88"/>
<line x1="479.5" y1="1512" x2="479.5" y2="1575" stroke-width="2.53"/>
<line x1="487.7" y1="1516" x2="487.7" y2="1578" stroke-width="1.88"/>
<path d="M440.8,1483.5 L499.9,1516.2 L506,1520.3" stroke-width="2.09"/>
<line x1="398" y1="1521" x2="430" y2="1540" stroke-width="1.88"/>
<ellipse cx="448.9" cy="1561.1" rx="4.2" ry="3" stroke-width="2.31"/>
<line x1="458" y1="1573" x2="472" y2="1566" stroke-width="1.66"/>
<line x1="461" y1="1578" x2="475" y2="1571" stroke-width="1.66"/>
<line x1="505" y1="1592" x2="517" y2="1585" stroke-width="1.88"/>
<line x1="426" y1="1546" x2="431" y2="1552" stroke-width="1.88"/>
<line x1="699.9" y1="1332.6" x2="765.2" y2="1365.2" stroke-width="1.88"/>
<line x1="700" y1="1338" x2="762" y2="1369" stroke-width="1.88"/>
<line x1="762" y1="1363" x2="770" y2="1368" stroke-width="3.39"/>
<ellipse cx="573.4" cy="1412.1" rx="3.8" ry="2.8" stroke-width="2.09"/>
<ellipse cx="631.3" cy="1380.7" rx="3.8" ry="2.8" stroke-width="2.09"/>
<ellipse cx="520.3" cy="1446" rx="3.8" ry="2.8" stroke-width="2.09"/>
<ellipse cx="626.4" cy="1442.7" rx="3.8" ry="2.8" stroke-width="2.09"/>
<ellipse cx="570.1" cy="1472.1" rx="3.8" ry="2.8" stroke-width="2.09"/>
<ellipse cx="680.7" cy="1408.1" rx="3.8" ry="2.8" stroke-width="2.09"/>
<ellipse cx="599.9" cy="1426.4" rx="18" ry="11" stroke-width="2.53"/>
<ellipse cx="599.9" cy="1428" rx="10" ry="6" stroke-width="1.66" stroke-dasharray="3 2"/>
<line x1="605.9" y1="1428" x2="614.9" y2="1428" stroke-width="1.23"/>
<line x1="605.3" y1="1429.3" x2="613.5" y2="1431.6" stroke-width="1.23"/>
<line x1="603.8" y1="1430.3" x2="609.5" y2="1434.5" stroke-width="1.23"/>
<line x1="601.5" y1="1430.9" x2="603.8" y2="1436.2" stroke-width="1.23"/>
<line x1="598.9" y1="1431" x2="597.3" y2="1436.4" stroke-width="1.23"/>
<line x1="596.5" y1="1430.5" x2="591.3" y2="1435" stroke-width="1.23"/>
<line x1="594.7" y1="1429.5" x2="586.9" y2="1432.2" stroke-width="1.23"/>
<line x1="593.9" y1="1428.3" x2="585" y2="1428.7" stroke-width="1.23"/>
<path d="M478,1457 C479.2,1456.5 482,1453.5 484,1452 C486,1450.5 488.2,1449.3 490,1448 C491.8,1446.7 493.7,1445.7 495,1444 C496.3,1442.3 498.2,1439.3 498,1438 C497.8,1436.7 496,1435.5 494,1436 C492,1436.5 488.3,1439 486,1441 C483.7,1443 481.5,1445.7 480,1448 C478.5,1450.3 477.3,1453.5 477,1455 C476.7,1456.5 476.8,1457.5 478,1457 Z" stroke-width="2.31"/>
<path d="M497,1434 L508,1428 L520,1432 L512,1438" stroke-width="2.09"/>
<line x1="503" y1="1438" x2="506" y2="1445" stroke-width="1.66"/>
<path d="M556,1500 C557,1500.2 560,1497.3 562,1496 C564,1494.7 566.7,1494 568,1492 C569.3,1490 570.3,1485.8 570,1484 C569.7,1482.2 567.5,1480.5 566,1481 C564.5,1481.5 562.7,1484.7 561,1487 C559.3,1489.3 556.8,1492.8 556,1495 C555.2,1497.2 555,1499.8 556,1500 Z" stroke-width="2.31"/>
<path d="M578,1484 L592,1474 L602,1478 L608,1475" stroke-width="2.09"/>
<path d="M580,1492 L594,1484" stroke-width="1.66"/>
<path d="M612,1384 C613.3,1383.8 617.7,1379.7 620,1378 C622.3,1376.3 624.3,1375.3 626,1374 C627.7,1372.7 630,1371.2 630,1370 C630,1368.8 628,1366.7 626,1367 C624,1367.3 620.3,1370 618,1372 C615.7,1374 613,1377 612,1379 C611,1381 610.7,1384.2 612,1384 Z" stroke-width="2.31"/>
<path d="M632,1360 L640,1356 L646,1362 L638,1366" stroke-width="2.09"/>
<path d="M709,1399 C709.3,1397.5 712.3,1396 714,1395 C715.7,1394 717.7,1392.3 719,1393 C720.3,1393.7 722.2,1397 722,1399 C721.8,1401 719.7,1404.2 718,1405 C716.3,1405.8 713.5,1405 712,1404 C710.5,1403 708.7,1400.5 709,1399 Z" stroke-width="2.31"/>
<path d="M683,1424 L690,1417 L700,1413 L705,1416" stroke-width="1.88"/>
<line x1="600.2" y1="1320" x2="600.2" y2="1426" stroke-width="1.88"/>
<path d="M601,1507 L601,1525 M601,1530 L601,1537 M601,1542 L601,1583" stroke-width="2.53"/>
<path d="M554.4,1274.5 L576.6,1263.4 L583.2,1264.7 L581.9,1259.5 L598.9,1249.7 L604.7,1251.6 L602.8,1259.5 L613.2,1259.5 L618.5,1260.8 L621.1,1290.9 L626.3,1295 L631.5,1295.4 L647.2,1304.6 L626.3,1315.7 L598.9,1301.3 L598.9,1280.4 L583.2,1290.9 Z" stroke-width="2.96" fill="#fff"/>
<ellipse cx="574.7" cy="1273.9" rx="6" ry="3.5" stroke-width="2.31"/>
<ellipse cx="627" cy="1304.6" rx="6" ry="3.5" stroke-width="2.31"/>
<line x1="583.2" y1="1264.7" x2="583.2" y2="1290.9" stroke-width="2.31"/>
<path d="M583.2,1264.7 L598.9,1273.5 L598.9,1280.4" stroke-width="2.31"/>
<path d="M603,1265 L615.9,1258 L615.9,1272 L603,1279 Z" stroke-width="2.53"/>
<line x1="606" y1="1266" x2="606" y2="1277" stroke-width="2.74"/>
<line x1="602" y1="1299" x2="613" y2="1292" stroke-width="1.88"/>
<line x1="600.2" y1="1307.9" x2="600.2" y2="1320" stroke-width="2.74"/>
<path d="M596,1640 C596.3,1646.7 595.3,1667 598,1680 C600.7,1693 605,1706.3 612,1718 C619,1729.7 630.3,1741.3 640,1750 C649.7,1758.7 660,1764 670,1770 C680,1776 685,1779.7 700,1786 C715,1792.3 734.7,1801.3 760,1808 C785.3,1814.7 836.7,1823 852,1826" stroke-width="2.53"/>
<path d="M604,1640 C604.3,1646.3 603.3,1665.7 606,1678 C608.7,1690.3 613.3,1703 620,1714 C626.7,1725 636.7,1735.8 646,1744 C655.3,1752.2 666,1757.2 676,1763 C686,1768.8 691.3,1772.8 706,1779 C720.7,1785.2 739.7,1793.5 764,1800 C788.3,1806.5 837.3,1815 852,1818" stroke-width="2.53"/>
<path d="M582.6,1591 L592.7,1583.3 L610.5,1585.9 L621.9,1591 L621.9,1618.8 L615.6,1626.4 L613,1636.6 L605.4,1639.1 L592.7,1636.6 L587.7,1626.4 L582.6,1618.8 Z" stroke-width="2.96" fill="#fff"/>
<path d="M592.7,1583.3 L592,1598 L586,1600" stroke-width="1.88"/>
<path d="M592,1598 L606,1593 L621.9,1591" stroke-width="1.88"/>
<line x1="600" y1="1596" x2="600" y2="1615" stroke-width="1.66"/>
<path d="M590,1630 L600,1626 L612,1630" stroke-width="1.88"/>
<rect x="853" y="1817" width="41" height="13" rx="6" transform="rotate(4 873 1823)" stroke-width="2.4" fill="#fff"/>
<line x1="862" y1="1824" x2="882" y2="1825" stroke-width="1.66"/>
<line x1="686" y1="1768" x2="690" y2="1781" stroke="#fff" stroke-width="3.5"/>
<line x1="704" y1="1776" x2="708" y2="1789" stroke="#fff" stroke-width="3.5"/>
<line x1="724" y1="1786" x2="727" y2="1798" stroke="#fff" stroke-width="3.5"/>
<line x1="744" y1="1794" x2="746" y2="1806" stroke="#fff" stroke-width="3.5"/>
<path d="M1196.2,965.1 L1367.6,864.5 L1367.6,857 L1378,862 L1380.5,851.6 L1446.5,887 L1446.5,903.1 L1459.4,908 L1459.4,991.6 L1464.2,998.1 L1285.6,1102.7 L1266.2,1093 L1266.2,1013 L1198.6,1053.6 L1196.2,1051.2 Z" stroke-width="3.17" fill="#fff"/>
<line x1="1266.2" y1="1007" x2="1266.2" y2="1093" stroke-width="3.82"/>
<line x1="1198.6" y1="970" x2="1262" y2="1007" stroke-width="2.31"/>
<path d="M1201,971 L1230,987 M1238,991 L1260,1003" stroke-width="1.88"/>
<path d="M1273,1003 L1317,977 M1322,974 L1390,934 M1398,929 L1441.7,906.3" stroke-width="2.31"/>
<line x1="1200" y1="982" x2="1264" y2="1016" stroke-width="2.74"/>
<path d="M1273,1088 L1330,1056 M1334,1053 L1375,1030 M1386,1024 L1441,992" stroke-width="1.88"/>
<line x1="1388" y1="1023" x2="1442" y2="993" stroke-width="1.88"/>
<line x1="1448.1" y1="909.6" x2="1449.7" y2="986.8" stroke-width="1.88" stroke-dasharray="12 4"/>
<path d="M1447,985 L1453,990 L1459.4,991.6" stroke-width="4.47"/>
<path d="M1180.9,1041.5 L1198.6,1053.6 L1196.2,1031.9 L1180.9,1041.5" stroke-width="2.74"/>
<path d="M1384,861 L1410,875 M1416,879 L1441.7,896.7" stroke-width="1.88"/>
<path d="M1383,998 L1383,1030" stroke-width="2.53"/>
<ellipse cx="1381.3" cy="1036.7" rx="5.5" ry="3" stroke-width="2.09"/>
<path d="M1377.6,970.0 L1377.6,988.0 L1382.1,994.0 L1386.6,988.0 L1386.6,970.0 Z" stroke-width="2.4" fill="#fff"/>
<line x1="1378.6" y1="975" x2="1385.6" y2="973" stroke-width="1.45"/>
<line x1="1378.6" y1="980" x2="1385.6" y2="978" stroke-width="1.45"/>
<line x1="1378.6" y1="985" x2="1385.6" y2="983" stroke-width="1.45"/>
<ellipse cx="1382.1" cy="968" rx="13" ry="6.5" stroke-width="2.96" fill="#fff"/>
<path d="M1376.1,967 L1376.1,963 L1379.1,960 L1385.1,960 L1388.1,963 L1388.1,967 L1385.1,969.5 L1379.1,969.5 Z" stroke-width="2.31" fill="#fff"/>
<line x1="1376.1" y1="964.5" x2="1388.1" y2="964.5" stroke-width="1.45"/>
<line x1="1373.7" y1="1176" x2="1373.9" y2="1245.7" stroke-width="2.53"/>
<path d="M1369.6,1147.5 L1369.6,1166.0 L1374.1,1172.0 L1378.6,1166.0 L1378.6,1147.5 Z" stroke-width="2.4" fill="#fff"/>
<line x1="1370.6" y1="1152.5" x2="1377.6" y2="1150.5" stroke-width="1.45"/>
<line x1="1370.6" y1="1157.5" x2="1377.6" y2="1155.5" stroke-width="1.45"/>
<line x1="1370.6" y1="1162.5" x2="1377.6" y2="1160.5" stroke-width="1.45"/>
<ellipse cx="1374.1" cy="1144.5" rx="11.5" ry="8" stroke-width="2.96" fill="#fff"/>
<path d="M1369.1,1145.5 C1369.9,1144.8 1372.4,1141.5 1374.1,1141.5 C1375.8,1141.5 1378.3,1144.8 1379.1,1145.5" stroke-width="1.88"/>
<line x1="1375.6" y1="1278.5" x2="1376.4" y2="1348.2" stroke-width="2.53"/>
<path d="M1362,1262 C1362.7,1259.3 1365.3,1256.2 1368,1254 C1370.7,1251.8 1375.3,1251 1378,1249 C1380.7,1247 1381.7,1243.5 1384,1242 C1386.3,1240.5 1389.3,1239.3 1392,1240 C1394.7,1240.7 1398,1243.7 1400,1246 C1402,1248.3 1404.3,1251.3 1404,1254 C1403.7,1256.7 1401,1259.3 1398,1262 C1395,1264.7 1390,1267.9 1386,1270 C1382,1272.1 1377.7,1274.5 1374,1274.5 C1370.3,1274.5 1366,1272.1 1364,1270 C1362,1267.9 1361.3,1264.7 1362,1262 Z" stroke-width="2.96" fill="#fff"/>
<ellipse cx="1375" cy="1262" rx="4" ry="3" stroke-width="2.53"/>
<line x1="1384" y1="1250" x2="1396" y2="1256" stroke-width="1.66"/>
<line x1="1298.3" y1="1313.3" x2="1298.5" y2="1377.2" stroke-width="2.53"/>
<path d="M1293.2,1285.4 L1293.2,1302.0 L1297.7,1308.0 L1302.2,1302.0 L1302.2,1285.4 Z" stroke-width="2.4" fill="#fff"/>
<line x1="1294.2" y1="1290.4" x2="1301.2" y2="1288.4" stroke-width="1.45"/>
<line x1="1294.2" y1="1295.4" x2="1301.2" y2="1293.4" stroke-width="1.45"/>
<line x1="1294.2" y1="1300.4" x2="1301.2" y2="1298.4" stroke-width="1.45"/>
<ellipse cx="1297.7" cy="1282.4" rx="11.5" ry="8" stroke-width="2.96" fill="#fff"/>
<path d="M1292.7,1283.4 C1293.5,1282.7 1296,1279.4 1297.7,1279.4 C1299.4,1279.4 1301.9,1282.7 1302.7,1283.4" stroke-width="1.88"/>
<path d="M1280.3,1386.8 L1355.7,1343.3 L1414.7,1375.2 L1414.7,1431.3 L1337.3,1471.9 L1280.3,1441 Z" stroke-width="3.17" fill="#fff"/>
<path d="M1280.3,1386.8 L1337.3,1418.6 L1414.7,1375.2" stroke-width="1.88" stroke-dasharray="20 5"/>
<line x1="1337.3" y1="1418.6" x2="1337.3" y2="1471.9" stroke-width="2.53"/>
<line x1="1283" y1="1393" x2="1283" y2="1438" stroke-width="1.66"/>
<path d="M1322,1412 L1343,1402 L1353,1407 L1332,1419 Z" stroke-width="2.53"/>
<line x1="1322" y1="1412" x2="1322" y2="1430" stroke-width="2.53"/>
<path d="M1345,1348 L1358,1342 L1372,1350 L1372,1364 L1366,1367 L1356,1359 L1345,1355 Z" stroke-width="2.53"/>
<path d="M1376,1366 L1387,1360 L1405,1370 L1399,1383 L1386,1382 L1376,1374 Z" stroke-width="2.53"/>
<path d="M1287,1384 L1296,1379 L1310,1388 L1302,1396 Z" stroke-width="2.53"/>
<line x1="1300" y1="1395" x2="1316" y2="1404" stroke-width="1.66"/>
<line x1="1303" y1="1418" x2="1316" y2="1426" stroke-width="1.66"/>
<line x1="1298.5" y1="1385" x2="1298.7" y2="1448" stroke-width="2.74"/>
<ellipse cx="1299.6" cy="1454.5" rx="11" ry="6.5" stroke-width="2.96" fill="#fff"/>
<ellipse cx="1299.6" cy="1454" rx="5" ry="3" stroke-width="2.09"/>
<ellipse cx="1619.8" cy="1489" rx="1.5" ry="1.5" stroke-width="0.69" fill="#000"/>
<ellipse cx="1754.9" cy="1503" rx="1.2" ry="1.2" stroke-width="0.69" fill="#000"/>
<ellipse cx="1846.7" cy="1496.6" rx="1.2" ry="1.2" stroke-width="0.69" fill="#000"/>
<ellipse cx="1737.2" cy="1547.3" rx="1" ry="1" stroke-width="0.69" fill="#000"/>
<ellipse cx="1787.9" cy="1552.4" rx="1.3" ry="1.3" stroke-width="0.69" fill="#000"/>
<ellipse cx="1872" cy="1695.4" rx="1.5" ry="1.5" stroke-width="0.69" fill="#000"/>
<ellipse cx="1957.5" cy="1693.4" rx="1" ry="1" stroke-width="0.69" fill="#000"/>
<ellipse cx="2008.5" cy="1691" rx="1" ry="1" stroke-width="0.69" fill="#000"/>
<ellipse cx="1530.3" cy="1810.8" rx="1.3" ry="1.3" stroke-width="0.69" fill="#000"/>
<ellipse cx="1742.7" cy="1829.8" rx="1.3" ry="1.3" stroke-width="0.69" fill="#000"/>
<ellipse cx="1052.4" cy="1547.3" rx="1" ry="1" stroke-width="0.69" fill="#000"/>
<ellipse cx="1262.3" cy="1706.3" rx="1.8" ry="1.8" stroke-width="0.69" fill="#000"/>
<ellipse cx="1249.4" cy="1779.9" rx="1" ry="1" stroke-width="0.69" fill="#000"/>
<ellipse cx="296.7" cy="1840.2" rx="1" ry="1" stroke-width="0.69" fill="#000"/>
<ellipse cx="1870" cy="1168.4" rx="1.2" ry="1.2" stroke-width="0.69" fill="#000"/>
<ellipse cx="1588" cy="1210.2" rx="1" ry="1" stroke-width="0.69" fill="#000"/>
<ellipse cx="1522" cy="1305.3" rx="1" ry="1" stroke-width="0.69" fill="#000"/>
<ellipse cx="642.2" cy="1216.6" rx="1" ry="1" stroke-width="0.69" fill="#000"/>
<ellipse cx="706.8" cy="367.6" rx="1" ry="1" stroke-width="0.69" fill="#000"/>
<ellipse cx="950.2" cy="372.7" rx="1" ry="1" stroke-width="0.69" fill="#000"/>
<ellipse cx="973" cy="395.5" rx="1" ry="1" stroke-width="0.69" fill="#000"/>
<ellipse cx="987" cy="408.2" rx="1" ry="1" stroke-width="0.69" fill="#000"/>
<line x1="4" y1="1546.6" x2="7.6" y2="1546" stroke-width="1.88"/>
<path d="M1810,1656 Q1818,1653 1826,1654 Q1829,1658 1826,1661 Q1818,1662 1810,1658 Z" fill="#000" stroke-width="1"/>
<path d="M1857,1271 L1867,1280" stroke-width="3"/>
</g>
<g stroke="#000" stroke-width="3.2" stroke-linecap="round" fill="none">
<line x1="200.3" y1="284" x2="237" y2="360"/>
<line x1="472" y1="224" x2="555.5" y2="184"/>
<line x1="762.6" y1="102.7" x2="795" y2="181.3"/>
<line x1="975" y1="77.8" x2="932" y2="147"/>
<line x1="803" y1="423" x2="878" y2="426.7"/>
<line x1="1349" y1="117" x2="1330" y2="208"/>
<line x1="1185.5" y1="190" x2="1221" y2="261"/>
<line x1="1080" y1="255" x2="1145" y2="309.3"/>
<line x1="1570.3" y1="95" x2="1654" y2="145.8"/>
<line x1="1802.3" y1="79.9" x2="1883.4" y2="96.3"/>
<line x1="1747.8" y1="176.2" x2="1805.6" y2="237"/>
<line x1="1929.9" y1="327" x2="1865.2" y2="401.9"/>
<line x1="664.2" y1="614" x2="680.2" y2="706.5"/>
<line x1="500.8" y1="650.8" x2="466.5" y2="759.8"/>
<line x1="126.3" y1="858.7" x2="97.6" y2="965.5"/>
<line x1="1784.6" y1="598.8" x2="1869.5" y2="617.8"/>
<line x1="1378.2" y1="704" x2="1504.7" y2="709.2"/>
<line x1="1270.4" y1="780" x2="1402.3" y2="800.3"/>
<line x1="1398.5" y1="968" x2="1515.4" y2="960.7"/>
<line x1="1081.5" y1="1055.6" x2="1180.4" y2="1040.3"/>
<line x1="1390.9" y1="1144.3" x2="1485" y2="1115"/>
<line x1="643" y1="1162" x2="756.3" y2="1164"/>
<line x1="1407.3" y1="1254.6" x2="1499.4" y2="1237.8"/>
<line x1="1200.7" y1="1259.7" x2="1286.9" y2="1280"/>
<line x1="240.9" y1="1269.8" x2="334.7" y2="1244.5"/>
<line x1="766.4" y1="1274.9" x2="863.5" y2="1302"/>
<line x1="566.1" y1="1287.5" x2="495" y2="1346"/>
<line x1="1420.5" y1="1402.3" x2="1516.6" y2="1383.7"/>
<line x1="306.8" y1="1487.8" x2="412" y2="1495.1"/>
<line x1="625.2" y1="1610" x2="723.3" y2="1613.8"/>
</g>
<g font-family="Liberation Sans, sans-serif" font-weight="bold" font-size="51.3" letter-spacing="3.7" fill="#000" stroke="#000" stroke-width="2.0" stroke-linejoin="round">
<text transform="translate(942.8,69.4) scale(0.726,1)">357</text>
<text transform="translate(730.0,97.0) scale(0.726,1)">312</text>
<text transform="translate(1538.4,88.1) scale(0.726,1)">366</text>
<text transform="translate(1312.5,109.7) scale(0.726,1)">842</text>
<text transform="translate(1889.3,116.0) scale(0.726,1)">838</text>
<text transform="translate(1151.5,182.0) scale(0.726,1)">398</text>
<text transform="translate(559.0,197.4) scale(0.726,1)">377</text>
<text transform="translate(1043.8,247.9) scale(0.726,1)">399</text>
<text transform="translate(1777.7,280.4) scale(0.726,1)">843</text>
<text transform="translate(166.3,277.0) scale(0.726,1)">554</text>
<text transform="translate(1895.0,320.1) scale(0.726,1)">400</text>
<text transform="translate(728.7,443.1) scale(0.726,1)">323</text>
<text transform="translate(629.8,605.3) scale(0.726,1)">352</text>
<text transform="translate(1874.0,634.9) scale(0.726,1)">801</text>
<text transform="translate(468.0,642.2) scale(0.726,1)">307</text>
<text transform="translate(1506.8,725.2) scale(0.726,1)">331</text>
<text transform="translate(1403.8,815.7) scale(0.726,1)">314</text>
<text transform="translate(91.5,851.7) scale(0.726,1)">383</text>
<text transform="translate(1519.2,976.1) scale(0.726,1)">842</text>
<text transform="translate(1008.3,1074.0) scale(0.726,1)">320</text>
<text transform="translate(1486.1,1129.0) scale(0.726,1)">820</text>
<text transform="translate(762.1,1178.7) scale(0.726,1)">828</text>
<text transform="translate(1504.9,1251.4) scale(0.726,1)">947</text>
<text transform="translate(1126.2,1273.0) scale(0.726,1)">804</text>
<text transform="translate(166.3,1288.2) scale(0.726,1)">308</text>
<text transform="translate(867.6,1318.6) scale(0.726,1)">856</text>
<text transform="translate(458.8,1391.0) scale(0.726,1)">317</text>
<text transform="translate(1520.3,1402.0) scale(0.726,1)">318</text>
<text transform="translate(231.8,1501.6) scale(0.726,1)">334</text>
<text transform="translate(731.7,1628.4) scale(0.726,1)">322</text>
</g>
</svg></body></html>
